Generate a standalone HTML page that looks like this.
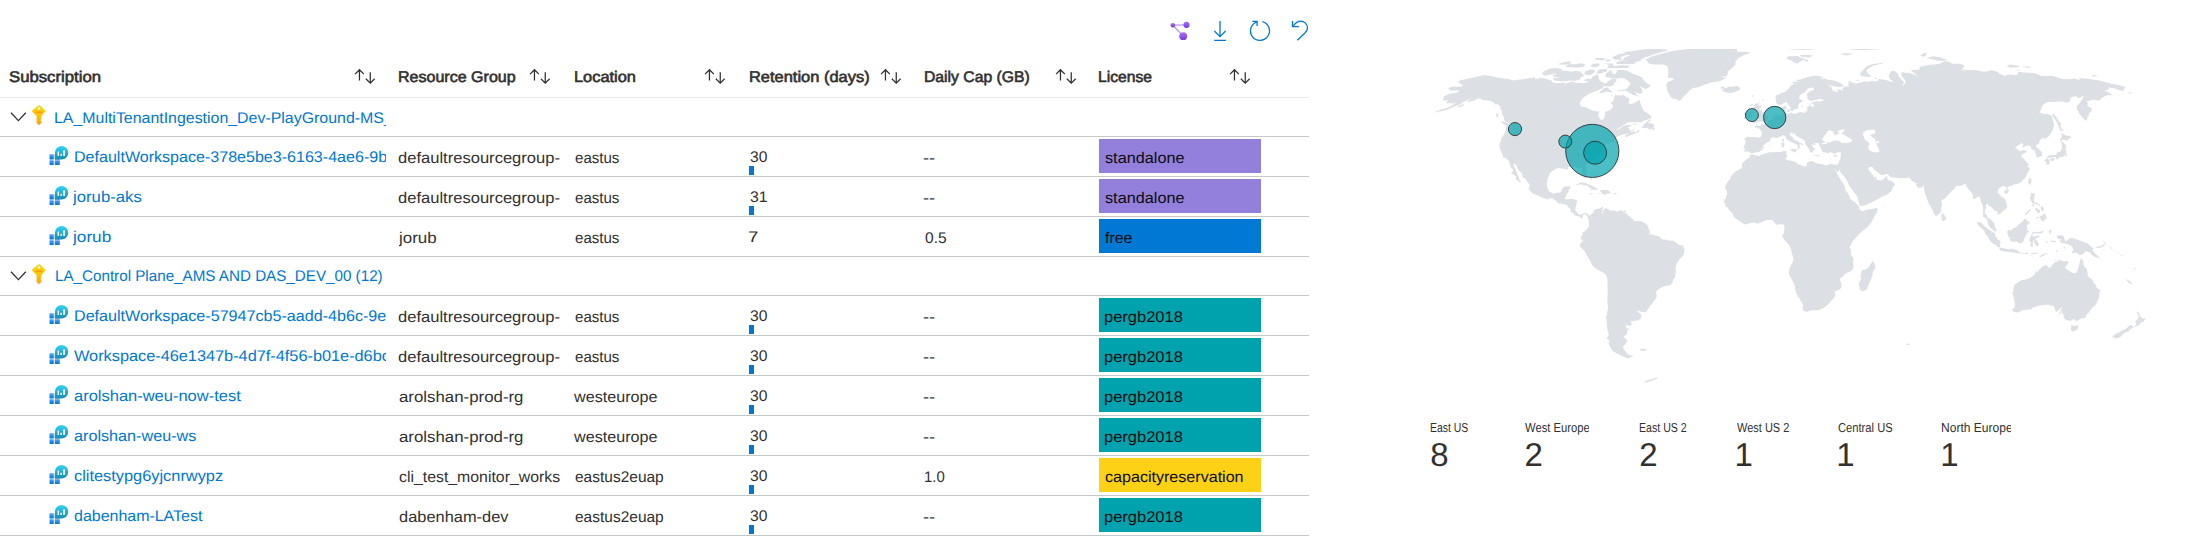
<!DOCTYPE html>
<html lang="en"><head><meta charset="utf-8"><title>Workspaces</title>
<style>
html,body{margin:0;padding:0;background:#fff;}
body{width:2195px;height:537px;overflow:hidden;position:relative;font-family:"Liberation Sans", sans-serif;color:#323130;}
.t{position:absolute;white-space:nowrap;text-rendering:geometricPrecision;}
.t span{display:inline-block;transform-origin:0 50%;}
.h{font-weight:normal;color:#323130;-webkit-text-stroke:0.6px #323130;}
.l{color:#0078d4;}
.c{color:#323130;}
.k{color:#0d0d0d;}
.ln{position:absolute;left:0;width:1309px;height:1px;background:#c8c8c8;}
.lic{position:absolute;left:1099px;width:162px;height:34px;}
.bar{position:absolute;left:749px;width:5px;height:9px;background:#0078d4;}
svg{position:absolute;overflow:visible;}
.tile-l{color:#323130;}
.tile-v{color:#323130;}
</style></head><body>

<svg style="left:1166px;top:16px" width="150" height="30" viewBox="1166 16 150 30">
<defs><linearGradient id="pg" x1="0" y1="0" x2="0" y2="1"><stop offset="0" stop-color="#a873f3"/><stop offset="1" stop-color="#773adc"/></linearGradient></defs>
<g stroke="#b796f9" stroke-width="1.3" fill="none"><path d="M1172.85 25.2 L1186.5 24.9 M1172.85 25.2 L1183.2 36.1"/></g>
<circle cx="1172.85" cy="25.3" r="2.3" fill="url(#pg)"/><circle cx="1186.5" cy="24.9" r="3.05" fill="url(#pg)"/><circle cx="1183.2" cy="36.15" r="3.9" fill="url(#pg)"/>
<g stroke="#0078d4" stroke-width="1.3" fill="none" stroke-linecap="butt" stroke-linejoin="miter">
<path d="M1220 21.1 V36.2 M1214.4 31 L1220 36.6 L1225.6 31 M1214.3 40.3 H1225.9"/>
<path d="M1262.4 21.7 A9.5 9.5 0 1 1 1257.2 21.8"/>
<path d="M1252.3 21.4 H1257.1 V25.9"/>
<path d="M1292.5 21.1 V26.7 H1298.9"/>
<path d="M1292.9 26.3 C1295 23.5 1297.5 21.1 1300.6 21.1 A6.9 6.9 0 0 1 1307.5 28 C1307.5 30.6 1306 32 1304.5 33.5 L1297.3 40.3"/>
</g>
</svg>
<div class="t h" style="left:8.75px;top:68.10px;font-size:15px;line-height:20px;"><span id="t1" style="transform:scale(1.1144,1.03);transform-origin:0 15.20px">Subscription</span></div>
<svg style="left:355px;top:68px" width="22" height="18" viewBox="0 0 22 18"><g stroke="#323130" stroke-width="1.25" fill="none">
<path d="M4.45 12.6 V1.7 M0.05 6.1 L4.45 1.7 L8.85 6.1"/><path d="M15.25 4.2 V15.1 M10.85 10.7 L15.25 15.1 L19.65 10.7"/></g></svg>
<div class="t h" style="left:397.50px;top:68.10px;font-size:15px;line-height:20px;"><span id="t2" style="transform:scale(1.0691,1.03);transform-origin:0 15.20px">Resource Group</span></div>
<svg style="left:529.5px;top:68px" width="22" height="18" viewBox="0 0 22 18"><g stroke="#323130" stroke-width="1.25" fill="none">
<path d="M4.45 12.6 V1.7 M0.05 6.1 L4.45 1.7 L8.85 6.1"/><path d="M15.25 4.2 V15.1 M10.85 10.7 L15.25 15.1 L19.65 10.7"/></g></svg>
<div class="t h" style="left:573.55px;top:68.10px;font-size:15px;line-height:20px;"><span id="t3" style="transform:scale(1.0924,1.03);transform-origin:0 15.20px">Location</span></div>
<svg style="left:705px;top:68px" width="22" height="18" viewBox="0 0 22 18"><g stroke="#323130" stroke-width="1.25" fill="none">
<path d="M4.45 12.6 V1.7 M0.05 6.1 L4.45 1.7 L8.85 6.1"/><path d="M15.25 4.2 V15.1 M10.85 10.7 L15.25 15.1 L19.65 10.7"/></g></svg>
<div class="t h" style="left:749.05px;top:68.10px;font-size:15px;line-height:20px;"><span id="t4" style="transform:scale(1.0960,1.03);transform-origin:0 15.20px">Retention (days)</span></div>
<svg style="left:880.5px;top:68px" width="22" height="18" viewBox="0 0 22 18"><g stroke="#323130" stroke-width="1.25" fill="none">
<path d="M4.45 12.6 V1.7 M0.05 6.1 L4.45 1.7 L8.85 6.1"/><path d="M15.25 4.2 V15.1 M10.85 10.7 L15.25 15.1 L19.65 10.7"/></g></svg>
<div class="t h" style="left:924.00px;top:68.10px;font-size:15px;line-height:20px;"><span id="t5" style="transform:scale(1.0478,1.03);transform-origin:0 15.20px">Daily Cap (GB)</span></div>
<svg style="left:1055.5px;top:68px" width="22" height="18" viewBox="0 0 22 18"><g stroke="#323130" stroke-width="1.25" fill="none">
<path d="M4.45 12.6 V1.7 M0.05 6.1 L4.45 1.7 L8.85 6.1"/><path d="M15.25 4.2 V15.1 M10.85 10.7 L15.25 15.1 L19.65 10.7"/></g></svg>
<div class="t h" style="left:1097.50px;top:68.10px;font-size:15px;line-height:20px;"><span id="t6" style="transform:scale(1.0445,1.03);transform-origin:0 15.20px">License</span></div>
<svg style="left:1230px;top:68px" width="22" height="18" viewBox="0 0 22 18"><g stroke="#323130" stroke-width="1.25" fill="none">
<path d="M4.45 12.6 V1.7 M0.05 6.1 L4.45 1.7 L8.85 6.1"/><path d="M15.25 4.2 V15.1 M10.85 10.7 L15.25 15.1 L19.65 10.7"/></g></svg>
<div class="ln" style="top:97px;background:#edebe9"></div>
<div class="ln" style="top:136px"></div>
<div class="ln" style="top:176px"></div>
<div class="ln" style="top:216px"></div>
<div class="ln" style="top:256px"></div>
<div class="ln" style="top:295px"></div>
<div class="ln" style="top:335px"></div>
<div class="ln" style="top:375px"></div>
<div class="ln" style="top:415px"></div>
<div class="ln" style="top:455px"></div>
<div class="ln" style="top:495px"></div>
<div class="ln" style="top:535px"></div>
<svg style="left:10px;top:111.8px" width="17" height="10" viewBox="0 0 17 10"><path d="M1 0.8 L8.4 8.6 L15.8 0.8" stroke="#323130" stroke-width="1.3" fill="none"/></svg>
<svg style="left:31px;top:105.0px" width="16" height="21" viewBox="0 0 16 21">
<defs><linearGradient id="kg1" x1="0" y1="0" x2="0" y2="1"><stop offset="0" stop-color="#ffd70f"/><stop offset="0.5" stop-color="#ffc400"/><stop offset="1" stop-color="#fea11b"/></linearGradient></defs>
<path fill="url(#kg1)" d="M7.6 0.3 Q8.1 0 8.6 0.3 L13.9 5.2 Q14.6 6 13.9 6.9 L10.3 11.1 V13.4 L9.6 14.1 L10.3 14.9 L9.6 15.7 L10.3 16.5 V18 L8 20.3 L5.6 18 V11.1 L1.4 6.9 Q0.8 6 1.4 5.2 Z"/>
<circle cx="7.9" cy="3.4" r="1.25" fill="#fff"/>
<rect x="4.4" y="6.6" width="7" height="1.3" rx="0.6" fill="#f78d1e" opacity="0.8"/>
</svg>
<div class="t l" style="left:53.75px;top:108.70px;font-size:15px;line-height:20px;width:332.25px;overflow:hidden;"><span id="t7" style="transform:scale(1.0608,1.03);transform-origin:0 15.20px">LA_MultiTenantIngestion_Dev-PlayGround-MS_</span></div>
<svg style="left:49px;top:145.6px" width="20" height="20" viewBox="0 0 20 20">
<defs><linearGradient id="wg2" x1="0" y1="0" x2="0" y2="1"><stop offset="0" stop-color="#32d4f5"/><stop offset="1" stop-color="#198ab3"/></linearGradient>
<linearGradient id="wb2" x1="0" y1="0" x2="0" y2="1"><stop offset="0" stop-color="#5ea0ef"/><stop offset="1" stop-color="#0078d4"/></linearGradient></defs>
<g fill="url(#wb2)"><rect x="0.5" y="8.3" width="4.3" height="5.1" rx="0.4"/><rect x="0.5" y="14.2" width="4.3" height="4.7" rx="0.4"/><rect x="5.8" y="14.2" width="5" height="4.7" rx="0.4"/><rect x="5.8" y="8.3" width="5" height="5.1" rx="0.4"/></g>
<path fill="url(#wg2)" d="M12.6 0 A6.7 6.7 0 1 1 12.6 13.4 H5.9 V6.7 A6.7 6.7 0 0 1 12.6 0 Z"/>
<g fill="#fff"><rect x="8.6" y="5.5" width="1.4" height="4.4" rx="0.3"/><rect x="11.4" y="7.7" width="1.4" height="2.2" rx="0.3"/><rect x="14.3" y="4.2" width="1.6" height="5.7" rx="0.3"/></g>
</svg>
<div class="t l" style="left:73.75px;top:148.10px;font-size:15px;line-height:20px;width:312.25px;overflow:hidden;"><span id="t8" style="transform:scale(1.0707,1.03);transform-origin:0 15.20px">DefaultWorkspace-378e5be3-6163-4ae6-9b</span></div>
<div class="t c" style="left:398.00px;top:149.20px;font-size:15px;line-height:20px;width:162.00px;overflow:hidden;"><span id="t9" style="transform:scale(1.1037,1.03);transform-origin:0 15.20px">defaultresourcegroup-</span></div>
<div class="t c" style="left:574.55px;top:149.20px;font-size:15px;line-height:20px;"><span id="t10" style="transform:scale(1.0045,1.03);transform-origin:0 15.20px">eastus</span></div>
<div class="t c" style="left:750.15px;top:148.00px;font-size:15px;line-height:20px;"><span id="t11" style="transform:scale(1.0439,1.03);transform-origin:0 15.20px">30</span></div>
<div class="bar" style="top:165.5px"></div>
<div class="t c" style="left:923.30px;top:149.20px;font-size:15px;line-height:20px;"><span id="t12" style="transform:scale(1.2241,1.03);transform-origin:0 15.20px">--</span></div>
<div class="lic" style="top:139px;background:#9280dc"></div>
<div class="t k" style="left:1104.50px;top:149.00px;font-size:15px;line-height:20px;"><span id="t13" style="transform:scale(1.0832,1.03);transform-origin:0 15.20px">standalone</span></div>
<svg style="left:49px;top:185.6px" width="20" height="20" viewBox="0 0 20 20">
<defs><linearGradient id="wg3" x1="0" y1="0" x2="0" y2="1"><stop offset="0" stop-color="#32d4f5"/><stop offset="1" stop-color="#198ab3"/></linearGradient>
<linearGradient id="wb3" x1="0" y1="0" x2="0" y2="1"><stop offset="0" stop-color="#5ea0ef"/><stop offset="1" stop-color="#0078d4"/></linearGradient></defs>
<g fill="url(#wb3)"><rect x="0.5" y="8.3" width="4.3" height="5.1" rx="0.4"/><rect x="0.5" y="14.2" width="4.3" height="4.7" rx="0.4"/><rect x="5.8" y="14.2" width="5" height="4.7" rx="0.4"/><rect x="5.8" y="8.3" width="5" height="5.1" rx="0.4"/></g>
<path fill="url(#wg3)" d="M12.6 0 A6.7 6.7 0 1 1 12.6 13.4 H5.9 V6.7 A6.7 6.7 0 0 1 12.6 0 Z"/>
<g fill="#fff"><rect x="8.6" y="5.5" width="1.4" height="4.4" rx="0.3"/><rect x="11.4" y="7.7" width="1.4" height="2.2" rx="0.3"/><rect x="14.3" y="4.2" width="1.6" height="5.7" rx="0.3"/></g>
</svg>
<div class="t l" style="left:72.90px;top:188.10px;font-size:15px;line-height:20px;width:313.10px;overflow:hidden;"><span id="t14" style="transform:scale(1.1149,1.03);transform-origin:0 15.20px">jorub-aks</span></div>
<div class="t c" style="left:398.00px;top:189.20px;font-size:15px;line-height:20px;width:162.00px;overflow:hidden;"><span id="t15" style="transform:scale(1.1037,1.03);transform-origin:0 15.20px">defaultresourcegroup-</span></div>
<div class="t c" style="left:574.55px;top:189.20px;font-size:15px;line-height:20px;"><span id="t16" style="transform:scale(1.0045,1.03);transform-origin:0 15.20px">eastus</span></div>
<div class="t c" style="left:750.15px;top:188.00px;font-size:15px;line-height:20px;"><span id="t17" style="transform:scale(1.0548,1.03);transform-origin:0 15.20px">31</span></div>
<div class="bar" style="top:205.5px"></div>
<div class="t c" style="left:923.30px;top:189.20px;font-size:15px;line-height:20px;"><span id="t18" style="transform:scale(1.2241,1.03);transform-origin:0 15.20px">--</span></div>
<div class="lic" style="top:179px;background:#9280dc"></div>
<div class="t k" style="left:1104.50px;top:189.00px;font-size:15px;line-height:20px;"><span id="t19" style="transform:scale(1.0832,1.03);transform-origin:0 15.20px">standalone</span></div>
<svg style="left:49px;top:225.6px" width="20" height="20" viewBox="0 0 20 20">
<defs><linearGradient id="wg4" x1="0" y1="0" x2="0" y2="1"><stop offset="0" stop-color="#32d4f5"/><stop offset="1" stop-color="#198ab3"/></linearGradient>
<linearGradient id="wb4" x1="0" y1="0" x2="0" y2="1"><stop offset="0" stop-color="#5ea0ef"/><stop offset="1" stop-color="#0078d4"/></linearGradient></defs>
<g fill="url(#wb4)"><rect x="0.5" y="8.3" width="4.3" height="5.1" rx="0.4"/><rect x="0.5" y="14.2" width="4.3" height="4.7" rx="0.4"/><rect x="5.8" y="14.2" width="5" height="4.7" rx="0.4"/><rect x="5.8" y="8.3" width="5" height="5.1" rx="0.4"/></g>
<path fill="url(#wg4)" d="M12.6 0 A6.7 6.7 0 1 1 12.6 13.4 H5.9 V6.7 A6.7 6.7 0 0 1 12.6 0 Z"/>
<g fill="#fff"><rect x="8.6" y="5.5" width="1.4" height="4.4" rx="0.3"/><rect x="11.4" y="7.7" width="1.4" height="2.2" rx="0.3"/><rect x="14.3" y="4.2" width="1.6" height="5.7" rx="0.3"/></g>
</svg>
<div class="t l" style="left:72.90px;top:228.10px;font-size:15px;line-height:20px;width:313.10px;overflow:hidden;"><span id="t20" style="transform:scale(1.1462,1.03);transform-origin:0 15.20px">jorub</span></div>
<div class="t c" style="left:399.40px;top:229.20px;font-size:15px;line-height:20px;width:160.60px;overflow:hidden;"><span id="t21" style="transform:scale(1.1318,1.03);transform-origin:0 15.20px">jorub</span></div>
<div class="t c" style="left:574.55px;top:229.20px;font-size:15px;line-height:20px;"><span id="t22" style="transform:scale(1.0045,1.03);transform-origin:0 15.20px">eastus</span></div>
<div class="t c" style="left:748.40px;top:228.00px;font-size:15px;line-height:20px;"><span id="t23" style="transform:scale(1.2463,1.03);transform-origin:0 15.20px">7</span></div>
<div class="t c" style="left:925.30px;top:229.20px;font-size:15px;line-height:20px;"><span id="t24" style="transform:scale(1.0373,1.03);transform-origin:0 15.20px">0.5</span></div>
<div class="lic" style="top:219px;background:#0078d4"></div>
<div class="t k" style="left:1104.50px;top:229.00px;font-size:15px;line-height:20px;"><span id="t25" style="transform:scale(1.0613,1.03);transform-origin:0 15.20px">free</span></div>
<svg style="left:10px;top:270.52000000000004px" width="17" height="10" viewBox="0 0 17 10"><path d="M1 0.8 L8.4 8.6 L15.8 0.8" stroke="#323130" stroke-width="1.3" fill="none"/></svg>
<svg style="left:31px;top:264.2px" width="16" height="21" viewBox="0 0 16 21">
<defs><linearGradient id="kg5" x1="0" y1="0" x2="0" y2="1"><stop offset="0" stop-color="#ffd70f"/><stop offset="0.5" stop-color="#ffc400"/><stop offset="1" stop-color="#fea11b"/></linearGradient></defs>
<path fill="url(#kg5)" d="M7.6 0.3 Q8.1 0 8.6 0.3 L13.9 5.2 Q14.6 6 13.9 6.9 L10.3 11.1 V13.4 L9.6 14.1 L10.3 14.9 L9.6 15.7 L10.3 16.5 V18 L8 20.3 L5.6 18 V11.1 L1.4 6.9 Q0.8 6 1.4 5.2 Z"/>
<circle cx="7.9" cy="3.4" r="1.25" fill="#fff"/>
<rect x="4.4" y="6.6" width="7" height="1.3" rx="0.6" fill="#f78d1e" opacity="0.8"/>
</svg>
<div class="t l" style="left:54.75px;top:266.70px;font-size:15px;line-height:20px;"><span id="t26" style="transform:scale(1.0128,1.03);transform-origin:0 15.20px">LA_Control Plane_AMS AND DAS_DEV_00 (12)</span></div>
<svg style="left:49px;top:304.6px" width="20" height="20" viewBox="0 0 20 20">
<defs><linearGradient id="wg6" x1="0" y1="0" x2="0" y2="1"><stop offset="0" stop-color="#32d4f5"/><stop offset="1" stop-color="#198ab3"/></linearGradient>
<linearGradient id="wb6" x1="0" y1="0" x2="0" y2="1"><stop offset="0" stop-color="#5ea0ef"/><stop offset="1" stop-color="#0078d4"/></linearGradient></defs>
<g fill="url(#wb6)"><rect x="0.5" y="8.3" width="4.3" height="5.1" rx="0.4"/><rect x="0.5" y="14.2" width="4.3" height="4.7" rx="0.4"/><rect x="5.8" y="14.2" width="5" height="4.7" rx="0.4"/><rect x="5.8" y="8.3" width="5" height="5.1" rx="0.4"/></g>
<path fill="url(#wg6)" d="M12.6 0 A6.7 6.7 0 1 1 12.6 13.4 H5.9 V6.7 A6.7 6.7 0 0 1 12.6 0 Z"/>
<g fill="#fff"><rect x="8.6" y="5.5" width="1.4" height="4.4" rx="0.3"/><rect x="11.4" y="7.7" width="1.4" height="2.2" rx="0.3"/><rect x="14.3" y="4.2" width="1.6" height="5.7" rx="0.3"/></g>
</svg>
<div class="t l" style="left:73.75px;top:307.10px;font-size:15px;line-height:20px;width:312.25px;overflow:hidden;"><span id="t27" style="transform:scale(1.0740,1.03);transform-origin:0 15.20px">DefaultWorkspace-57947cb5-aadd-4b6c-9e</span></div>
<div class="t c" style="left:398.00px;top:308.20px;font-size:15px;line-height:20px;width:162.00px;overflow:hidden;"><span id="t28" style="transform:scale(1.1037,1.03);transform-origin:0 15.20px">defaultresourcegroup-</span></div>
<div class="t c" style="left:574.55px;top:308.20px;font-size:15px;line-height:20px;"><span id="t29" style="transform:scale(1.0045,1.03);transform-origin:0 15.20px">eastus</span></div>
<div class="t c" style="left:750.15px;top:307.00px;font-size:15px;line-height:20px;"><span id="t30" style="transform:scale(1.0439,1.03);transform-origin:0 15.20px">30</span></div>
<div class="bar" style="top:324.5px"></div>
<div class="t c" style="left:923.30px;top:308.20px;font-size:15px;line-height:20px;"><span id="t31" style="transform:scale(1.2241,1.03);transform-origin:0 15.20px">--</span></div>
<div class="lic" style="top:298px;background:#00a2ad"></div>
<div class="t k" style="left:1103.50px;top:308.00px;font-size:15px;line-height:20px;"><span id="t32" style="transform:scale(1.0984,1.03);transform-origin:0 15.20px">pergb2018</span></div>
<svg style="left:49px;top:344.6px" width="20" height="20" viewBox="0 0 20 20">
<defs><linearGradient id="wg7" x1="0" y1="0" x2="0" y2="1"><stop offset="0" stop-color="#32d4f5"/><stop offset="1" stop-color="#198ab3"/></linearGradient>
<linearGradient id="wb7" x1="0" y1="0" x2="0" y2="1"><stop offset="0" stop-color="#5ea0ef"/><stop offset="1" stop-color="#0078d4"/></linearGradient></defs>
<g fill="url(#wb7)"><rect x="0.5" y="8.3" width="4.3" height="5.1" rx="0.4"/><rect x="0.5" y="14.2" width="4.3" height="4.7" rx="0.4"/><rect x="5.8" y="14.2" width="5" height="4.7" rx="0.4"/><rect x="5.8" y="8.3" width="5" height="5.1" rx="0.4"/></g>
<path fill="url(#wg7)" d="M12.6 0 A6.7 6.7 0 1 1 12.6 13.4 H5.9 V6.7 A6.7 6.7 0 0 1 12.6 0 Z"/>
<g fill="#fff"><rect x="8.6" y="5.5" width="1.4" height="4.4" rx="0.3"/><rect x="11.4" y="7.7" width="1.4" height="2.2" rx="0.3"/><rect x="14.3" y="4.2" width="1.6" height="5.7" rx="0.3"/></g>
</svg>
<div class="t l" style="left:73.50px;top:347.10px;font-size:15px;line-height:20px;width:312.50px;overflow:hidden;"><span id="t33" style="transform:scale(1.0865,1.03);transform-origin:0 15.20px">Workspace-46e1347b-4d7f-4f56-b01e-d6bc</span></div>
<div class="t c" style="left:398.00px;top:348.20px;font-size:15px;line-height:20px;width:162.00px;overflow:hidden;"><span id="t34" style="transform:scale(1.1037,1.03);transform-origin:0 15.20px">defaultresourcegroup-</span></div>
<div class="t c" style="left:574.55px;top:348.20px;font-size:15px;line-height:20px;"><span id="t35" style="transform:scale(1.0045,1.03);transform-origin:0 15.20px">eastus</span></div>
<div class="t c" style="left:750.15px;top:347.00px;font-size:15px;line-height:20px;"><span id="t36" style="transform:scale(1.0439,1.03);transform-origin:0 15.20px">30</span></div>
<div class="bar" style="top:364.5px"></div>
<div class="t c" style="left:923.30px;top:348.20px;font-size:15px;line-height:20px;"><span id="t37" style="transform:scale(1.2241,1.03);transform-origin:0 15.20px">--</span></div>
<div class="lic" style="top:338px;background:#00a2ad"></div>
<div class="t k" style="left:1103.50px;top:348.00px;font-size:15px;line-height:20px;"><span id="t38" style="transform:scale(1.0984,1.03);transform-origin:0 15.20px">pergb2018</span></div>
<svg style="left:49px;top:384.6px" width="20" height="20" viewBox="0 0 20 20">
<defs><linearGradient id="wg8" x1="0" y1="0" x2="0" y2="1"><stop offset="0" stop-color="#32d4f5"/><stop offset="1" stop-color="#198ab3"/></linearGradient>
<linearGradient id="wb8" x1="0" y1="0" x2="0" y2="1"><stop offset="0" stop-color="#5ea0ef"/><stop offset="1" stop-color="#0078d4"/></linearGradient></defs>
<g fill="url(#wb8)"><rect x="0.5" y="8.3" width="4.3" height="5.1" rx="0.4"/><rect x="0.5" y="14.2" width="4.3" height="4.7" rx="0.4"/><rect x="5.8" y="14.2" width="5" height="4.7" rx="0.4"/><rect x="5.8" y="8.3" width="5" height="5.1" rx="0.4"/></g>
<path fill="url(#wg8)" d="M12.6 0 A6.7 6.7 0 1 1 12.6 13.4 H5.9 V6.7 A6.7 6.7 0 0 1 12.6 0 Z"/>
<g fill="#fff"><rect x="8.6" y="5.5" width="1.4" height="4.4" rx="0.3"/><rect x="11.4" y="7.7" width="1.4" height="2.2" rx="0.3"/><rect x="14.3" y="4.2" width="1.6" height="5.7" rx="0.3"/></g>
</svg>
<div class="t l" style="left:73.50px;top:387.10px;font-size:15px;line-height:20px;width:312.50px;overflow:hidden;"><span id="t39" style="transform:scale(1.0989,1.03);transform-origin:0 15.20px">arolshan-weu-now-test</span></div>
<div class="t c" style="left:398.50px;top:388.20px;font-size:15px;line-height:20px;width:161.50px;overflow:hidden;"><span id="t40" style="transform:scale(1.1223,1.03);transform-origin:0 15.20px">arolshan-prod-rg</span></div>
<div class="t c" style="left:574.30px;top:388.20px;font-size:15px;line-height:20px;"><span id="t41" style="transform:scale(1.0765,1.03);transform-origin:0 15.20px">westeurope</span></div>
<div class="t c" style="left:750.15px;top:387.00px;font-size:15px;line-height:20px;"><span id="t42" style="transform:scale(1.0439,1.03);transform-origin:0 15.20px">30</span></div>
<div class="bar" style="top:404.5px"></div>
<div class="t c" style="left:923.30px;top:388.20px;font-size:15px;line-height:20px;"><span id="t43" style="transform:scale(1.2241,1.03);transform-origin:0 15.20px">--</span></div>
<div class="lic" style="top:378px;background:#00a2ad"></div>
<div class="t k" style="left:1103.50px;top:388.00px;font-size:15px;line-height:20px;"><span id="t44" style="transform:scale(1.0984,1.03);transform-origin:0 15.20px">pergb2018</span></div>
<svg style="left:49px;top:424.6px" width="20" height="20" viewBox="0 0 20 20">
<defs><linearGradient id="wg9" x1="0" y1="0" x2="0" y2="1"><stop offset="0" stop-color="#32d4f5"/><stop offset="1" stop-color="#198ab3"/></linearGradient>
<linearGradient id="wb9" x1="0" y1="0" x2="0" y2="1"><stop offset="0" stop-color="#5ea0ef"/><stop offset="1" stop-color="#0078d4"/></linearGradient></defs>
<g fill="url(#wb9)"><rect x="0.5" y="8.3" width="4.3" height="5.1" rx="0.4"/><rect x="0.5" y="14.2" width="4.3" height="4.7" rx="0.4"/><rect x="5.8" y="14.2" width="5" height="4.7" rx="0.4"/><rect x="5.8" y="8.3" width="5" height="5.1" rx="0.4"/></g>
<path fill="url(#wg9)" d="M12.6 0 A6.7 6.7 0 1 1 12.6 13.4 H5.9 V6.7 A6.7 6.7 0 0 1 12.6 0 Z"/>
<g fill="#fff"><rect x="8.6" y="5.5" width="1.4" height="4.4" rx="0.3"/><rect x="11.4" y="7.7" width="1.4" height="2.2" rx="0.3"/><rect x="14.3" y="4.2" width="1.6" height="5.7" rx="0.3"/></g>
</svg>
<div class="t l" style="left:73.50px;top:427.10px;font-size:15px;line-height:20px;width:312.50px;overflow:hidden;"><span id="t45" style="transform:scale(1.0786,1.03);transform-origin:0 15.20px">arolshan-weu-ws</span></div>
<div class="t c" style="left:398.50px;top:428.20px;font-size:15px;line-height:20px;width:161.50px;overflow:hidden;"><span id="t46" style="transform:scale(1.1223,1.03);transform-origin:0 15.20px">arolshan-prod-rg</span></div>
<div class="t c" style="left:574.30px;top:428.20px;font-size:15px;line-height:20px;"><span id="t47" style="transform:scale(1.0765,1.03);transform-origin:0 15.20px">westeurope</span></div>
<div class="t c" style="left:750.15px;top:427.00px;font-size:15px;line-height:20px;"><span id="t48" style="transform:scale(1.0439,1.03);transform-origin:0 15.20px">30</span></div>
<div class="bar" style="top:444.5px"></div>
<div class="t c" style="left:923.30px;top:428.20px;font-size:15px;line-height:20px;"><span id="t49" style="transform:scale(1.2241,1.03);transform-origin:0 15.20px">--</span></div>
<div class="lic" style="top:418px;background:#00a2ad"></div>
<div class="t k" style="left:1103.50px;top:428.00px;font-size:15px;line-height:20px;"><span id="t50" style="transform:scale(1.0984,1.03);transform-origin:0 15.20px">pergb2018</span></div>
<svg style="left:49px;top:464.6px" width="20" height="20" viewBox="0 0 20 20">
<defs><linearGradient id="wg10" x1="0" y1="0" x2="0" y2="1"><stop offset="0" stop-color="#32d4f5"/><stop offset="1" stop-color="#198ab3"/></linearGradient>
<linearGradient id="wb10" x1="0" y1="0" x2="0" y2="1"><stop offset="0" stop-color="#5ea0ef"/><stop offset="1" stop-color="#0078d4"/></linearGradient></defs>
<g fill="url(#wb10)"><rect x="0.5" y="8.3" width="4.3" height="5.1" rx="0.4"/><rect x="0.5" y="14.2" width="4.3" height="4.7" rx="0.4"/><rect x="5.8" y="14.2" width="5" height="4.7" rx="0.4"/><rect x="5.8" y="8.3" width="5" height="5.1" rx="0.4"/></g>
<path fill="url(#wg10)" d="M12.6 0 A6.7 6.7 0 1 1 12.6 13.4 H5.9 V6.7 A6.7 6.7 0 0 1 12.6 0 Z"/>
<g fill="#fff"><rect x="8.6" y="5.5" width="1.4" height="4.4" rx="0.3"/><rect x="11.4" y="7.7" width="1.4" height="2.2" rx="0.3"/><rect x="14.3" y="4.2" width="1.6" height="5.7" rx="0.3"/></g>
</svg>
<div class="t l" style="left:73.50px;top:467.10px;font-size:15px;line-height:20px;width:312.50px;overflow:hidden;"><span id="t51" style="transform:scale(1.0907,1.03);transform-origin:0 15.20px">clitestypg6yjcnrwypz</span></div>
<div class="t c" style="left:398.50px;top:468.20px;font-size:15px;line-height:20px;width:161.50px;overflow:hidden;"><span id="t52" style="transform:scale(1.0558,1.03);transform-origin:0 15.20px">cli_test_monitor_works</span></div>
<div class="t c" style="left:574.55px;top:468.20px;font-size:15px;line-height:20px;"><span id="t53" style="transform:scale(1.0330,1.03);transform-origin:0 15.20px">eastus2euap</span></div>
<div class="t c" style="left:750.15px;top:467.00px;font-size:15px;line-height:20px;"><span id="t54" style="transform:scale(1.0439,1.03);transform-origin:0 15.20px">30</span></div>
<div class="bar" style="top:484.5px"></div>
<div class="t c" style="left:924.30px;top:468.20px;font-size:15px;line-height:20px;"><span id="t55" style="transform:scale(0.9948,1.03);transform-origin:0 15.20px">1.0</span></div>
<div class="lic" style="top:458px;background:#fcd116"></div>
<div class="t k" style="left:1104.50px;top:468.00px;font-size:15px;line-height:20px;"><span id="t56" style="transform:scale(1.0722,1.03);transform-origin:0 15.20px">capacityreservation</span></div>
<svg style="left:49px;top:504.6px" width="20" height="20" viewBox="0 0 20 20">
<defs><linearGradient id="wg11" x1="0" y1="0" x2="0" y2="1"><stop offset="0" stop-color="#32d4f5"/><stop offset="1" stop-color="#198ab3"/></linearGradient>
<linearGradient id="wb11" x1="0" y1="0" x2="0" y2="1"><stop offset="0" stop-color="#5ea0ef"/><stop offset="1" stop-color="#0078d4"/></linearGradient></defs>
<g fill="url(#wb11)"><rect x="0.5" y="8.3" width="4.3" height="5.1" rx="0.4"/><rect x="0.5" y="14.2" width="4.3" height="4.7" rx="0.4"/><rect x="5.8" y="14.2" width="5" height="4.7" rx="0.4"/><rect x="5.8" y="8.3" width="5" height="5.1" rx="0.4"/></g>
<path fill="url(#wg11)" d="M12.6 0 A6.7 6.7 0 1 1 12.6 13.4 H5.9 V6.7 A6.7 6.7 0 0 1 12.6 0 Z"/>
<g fill="#fff"><rect x="8.6" y="5.5" width="1.4" height="4.4" rx="0.3"/><rect x="11.4" y="7.7" width="1.4" height="2.2" rx="0.3"/><rect x="14.3" y="4.2" width="1.6" height="5.7" rx="0.3"/></g>
</svg>
<div class="t l" style="left:73.50px;top:507.10px;font-size:15px;line-height:20px;width:312.50px;overflow:hidden;"><span id="t57" style="transform:scale(1.0640,1.03);transform-origin:0 15.20px">dabenham-LATest</span></div>
<div class="t c" style="left:398.50px;top:508.20px;font-size:15px;line-height:20px;width:161.50px;overflow:hidden;"><span id="t58" style="transform:scale(1.0939,1.03);transform-origin:0 15.20px">dabenham-dev</span></div>
<div class="t c" style="left:574.55px;top:508.20px;font-size:15px;line-height:20px;"><span id="t59" style="transform:scale(1.0330,1.03);transform-origin:0 15.20px">eastus2euap</span></div>
<div class="t c" style="left:750.15px;top:507.00px;font-size:15px;line-height:20px;"><span id="t60" style="transform:scale(1.0439,1.03);transform-origin:0 15.20px">30</span></div>
<div class="bar" style="top:524.5px"></div>
<div class="t c" style="left:923.30px;top:508.20px;font-size:15px;line-height:20px;"><span id="t61" style="transform:scale(1.2241,1.03);transform-origin:0 15.20px">--</span></div>
<div class="lic" style="top:498px;background:#00a2ad"></div>
<div class="t k" style="left:1103.50px;top:508.00px;font-size:15px;line-height:20px;"><span id="t62" style="transform:scale(1.0984,1.03);transform-origin:0 15.20px">pergb2018</span></div>
<svg style="left:1330px;top:47px" width="865" height="400" viewBox="1330 47 865 400">
<defs><clipPath id="mc"><rect x="1330" y="48.9" width="865" height="400"/></clipPath></defs>
<g clip-path="url(#mc)">
<path fill="#dcdfe4" d="M1448.3,88.0 1453.3,86.6 1455.4,86.7 1457.6,86.8 1459.5,86.8 1461.3,86.8 1463.3,84.8 1460.2,84.6 1460.6,83.5 1459.1,82.7 1457.5,81.8 1460.1,80.6 1464.2,79.6 1468.3,78.6 1472.2,77.7 1476.0,76.8 1480.2,75.9 1484.5,75.0 1486.8,75.4 1489.0,75.8 1491.3,76.1 1493.8,76.7 1496.4,77.3 1499.1,77.7 1501.8,78.2 1504.0,78.4 1506.1,78.7 1508.3,78.9 1510.2,79.5 1512.1,80.0 1514.0,80.6 1516.4,80.0 1518.8,79.5 1520.7,79.4 1522.7,79.3 1524.9,78.8 1527.2,78.4 1529.8,78.0 1532.4,77.7 1534.2,76.8 1534.8,78.0 1535.5,79.3 1539.3,78.2 1539.4,77.7 1542.3,78.2 1545.3,78.6 1547.2,79.2 1549.1,79.8 1551.1,80.4 1552.0,81.5 1552.9,82.6 1554.4,83.1 1557.0,83.0 1559.5,82.9 1562.1,82.8 1564.2,82.5 1566.3,82.2 1563.9,85.3 1567.6,82.8 1570.0,82.2 1572.4,81.5 1574.6,82.3 1576.8,83.1 1579.3,83.1 1581.7,83.1 1584.2,83.1 1587.6,82.2 1589.8,80.4 1592.3,77.0 1597.4,73.9 1598.0,75.5 1598.7,77.0 1598.9,79.3 1600.3,81.3 1601.7,81.9 1603.1,82.6 1605.2,83.7 1608.9,80.8 1612.2,78.6 1614.3,78.8 1616.5,79.0 1616.3,81.5 1613.6,83.7 1614.3,85.1 1610.1,86.6 1607.9,86.3 1605.8,86.0 1604.4,86.0 1601.5,88.4 1597.1,91.1 1594.9,91.6 1592.6,92.2 1590.0,93.5 1587.3,94.9 1582.5,98.2 1581.0,100.7 1579.6,103.1 1581.2,106.7 1583.6,106.9 1585.9,107.1 1587.9,108.3 1589.9,109.4 1592.1,110.2 1594.3,110.9 1596.9,111.2 1599.5,111.4 1598.1,114.9 1599.5,118.3 1600.9,120.1 1603.2,119.4 1604.4,117.2 1605.2,113.8 1604.9,112.0 1607.2,111.3 1609.5,110.5 1612.2,108.3 1613.2,105.4 1610.5,103.1 1613.7,100.4 1613.7,98.2 1615.2,95.1 1617.5,95.3 1619.8,95.5 1623.5,95.1 1626.3,97.1 1629.3,98.2 1628.9,101.6 1628.3,103.1 1630.8,104.2 1634.2,103.1 1637.6,100.9 1639.5,99.6 1640.3,102.7 1641.3,105.4 1642.4,108.3 1643.9,110.9 1647.0,112.7 1649.0,114.3 1651.4,116.5 1651.1,118.3 1648.1,119.6 1644.4,120.5 1641.2,122.3 1639.2,122.3 1637.1,122.3 1634.6,122.2 1632.1,122.1 1630.0,122.2 1627.9,122.3 1625.2,124.3 1621.7,125.9 1619.0,128.1 1616.0,129.9 1618.6,129.4 1622.5,126.5 1626.5,125.0 1628.9,124.9 1631.3,124.8 1631.5,125.4 1628.6,127.2 1626.9,127.2 1629.4,128.1 1629.4,129.7 1630.6,131.2 1631.5,131.9 1634.6,132.1 1636.0,132.6 1638.8,129.4 1639.4,131.4 1636.4,133.2 1633.6,134.1 1630.8,135.0 1628.4,136.1 1626.0,137.2 1624.9,135.7 1626.7,134.6 1629.5,133.2 1625.8,133.7 1623.6,134.3 1620.2,135.5 1616.7,136.8 1614.7,138.6 1614.8,139.3 1613.8,139.9 1614.4,140.8 1615.7,140.6 1615.7,141.3 1614.2,141.7 1612.4,141.9 1610.0,142.3 1607.3,143.0 1611.0,142.8 1609.8,143.4 1606.5,143.7 1606.1,145.5 1603.7,147.4 1602.9,146.4 1603.2,147.9 1602.6,149.5 1600.6,151.5 1599.7,151.7 1600.2,148.8 1601.1,146.6 1599.8,148.4 1599.7,151.7 1600.3,152.0 1600.6,155.5 1598.2,156.9 1594.8,158.7 1591.7,160.2 1589.7,161.6 1587.5,162.9 1585.9,165.6 1585.7,167.8 1586.7,170.7 1587.3,174.5 1586.8,176.7 1586.0,178.1 1584.4,178.2 1583.2,176.0 1582.6,174.5 1581.8,172.3 1582.1,169.6 1580.9,167.8 1579.5,167.2 1576.9,168.0 1574.6,166.5 1571.3,166.7 1568.9,166.7 1567.6,167.6 1567.9,169.4 1567.6,169.7 1565.9,169.4 1563.7,168.7 1561.5,168.4 1558.3,168.0 1556.2,168.7 1553.3,170.5 1550.0,172.7 1548.8,176.3 1547.6,179.6 1547.1,181.8 1546.6,184.1 1547.4,187.9 1548.9,191.2 1551.6,192.8 1553.1,193.8 1556.7,192.8 1559.4,192.8 1561.4,191.2 1562.4,187.9 1563.5,187.1 1566.9,186.3 1570.2,186.3 1570.4,187.9 1568.9,189.7 1568.1,192.5 1566.6,194.1 1566.1,196.3 1564.5,198.8 1566.5,199.2 1569.8,199.0 1573.2,198.7 1576.6,200.4 1577.2,200.8 1576.3,204.1 1575.6,207.5 1575.2,209.9 1577.1,212.4 1578.3,214.2 1581.0,214.6 1583.5,213.4 1586.0,213.1 1588.0,214.2 1589.2,215.0 1587.8,218.2 1587.2,215.7 1585.5,214.4 1584.4,214.3 1582.3,215.7 1583.1,217.5 1581.1,218.2 1579.3,216.6 1576.7,216.0 1575.1,215.3 1572.8,212.8 1571.9,212.8 1570.4,211.7 1570.8,209.5 1568.7,207.5 1567.0,205.5 1567.3,204.6 1564.9,204.8 1562.0,204.0 1558.5,203.3 1556.9,201.9 1553.4,198.7 1551.0,198.1 1547.5,199.4 1545.4,198.6 1543.2,197.9 1540.2,196.7 1536.5,194.8 1532.6,193.4 1530.9,191.7 1528.6,188.8 1529.7,186.3 1529.2,183.9 1527.7,182.3 1525.1,178.5 1522.3,176.9 1522.6,174.7 1520.7,172.0 1517.8,169.6 1516.8,165.6 1513.8,163.6 1513.7,163.3 1513.4,165.3 1515.2,168.5 1516.2,170.9 1517.3,173.8 1518.3,176.3 1519.4,179.4 1520.9,182.3 1520.0,183.2 1519.4,181.8 1515.9,179.4 1516.3,176.5 1513.6,174.7 1511.9,173.4 1511.0,172.3 1513.0,171.4 1513.1,169.8 1510.7,167.3 1509.9,165.1 1509.1,161.8 1507.1,158.9 1505.6,158.1 1502.8,157.3 1502.8,155.3 1501.5,152.6 1500.9,150.6 1500.2,149.5 1499.5,146.6 1499.3,144.2 1500.9,141.3 1501.1,138.8 1503.8,134.8 1505.5,131.2 1505.9,128.8 1506.2,126.3 1509.9,127.0 1509.9,128.8 1511.1,126.5 1510.8,125.0 1510.3,124.3 1507.8,122.8 1506.1,121.7 1504.3,120.7 1504.1,117.8 1502.7,115.2 1501.9,113.2 1502.0,110.9 1500.8,109.4 1500.0,106.0 1498.7,105.0 1497.4,104.0 1494.9,104.5 1493.6,102.5 1491.1,101.0 1489.2,100.7 1487.2,100.4 1485.1,100.3 1482.9,100.2 1480.7,98.8 1478.9,98.6 1477.1,98.4 1474.7,100.4 1471.6,101.1 1469.1,101.7 1466.6,102.2 1469.7,99.3 1473.9,97.8 1469.5,98.7 1464.4,101.6 1460.2,104.2 1456.8,105.7 1453.4,107.1 1450.6,108.3 1447.7,109.4 1445.2,110.0 1442.7,110.7 1440.1,111.3 1437.5,111.8 1435.1,112.2 1432.7,112.5 1436.8,111.2 1440.6,109.6 1444.2,108.7 1449.2,107.1 1453.9,104.2 1455.6,103.1 1451.7,103.6 1449.1,103.1 1445.9,103.3 1445.3,103.5 1447.4,101.6 1447.6,100.2 1443.9,100.7 1442.7,99.1 1444.2,96.9 1443.2,96.9 1448.5,94.0 1452.6,93.3 1454.9,92.9 1457.3,92.4 1459.8,90.2 1456.1,90.6 1454.1,90.6 1452.1,90.5 1450.8,90.4 1449.2,89.7ZM1679.4,100.9 1677.6,100.0 1675.8,99.1 1673.8,98.7 1671.8,98.2 1670.0,96.0 1668.8,93.8 1667.4,91.1 1666.9,88.2 1666.1,85.1 1667.5,82.2 1670.2,81.0 1673.0,79.9 1674.0,78.4 1670.9,77.9 1667.7,77.5 1668.3,75.0 1668.4,71.9 1668.0,68.1 1666.8,65.7 1664.5,65.1 1662.3,64.5 1659.4,64.5 1656.5,64.5 1653.7,64.5 1651.4,64.1 1649.1,63.7 1648.2,62.7 1647.2,61.6 1646.3,59.6 1649.7,59.0 1653.0,58.3 1656.3,57.6 1659.1,56.7 1661.9,55.8 1660.7,55.3 1659.6,54.7 1662.5,54.1 1665.5,53.5 1668.4,53.0 1671.5,52.2 1674.6,51.4 1677.2,51.3 1679.9,51.1 1682.5,51.0 1685.2,50.9 1687.8,50.7 1690.3,50.5 1692.9,50.3 1695.4,50.1 1697.9,49.8 1700.6,49.5 1703.4,49.2 1706.1,48.9 1708.8,48.6 1711.5,48.3 1713.9,48.1 1716.4,47.9 1718.9,47.8 1721.4,47.9 1723.8,48.1 1726.3,48.3 1728.8,48.5 1731.3,48.7 1733.2,49.2 1735.0,49.8 1736.9,50.3 1733.9,51.8 1736.9,51.8 1739.8,51.8 1742.8,51.8 1745.8,51.8 1748.5,52.3 1751.1,52.7 1748.5,53.6 1745.8,54.5 1743.1,55.4 1740.7,56.7 1738.2,58.1 1735.5,61.4 1735.4,64.8 1733.1,67.0 1730.8,69.2 1727.6,71.5 1727.9,73.7 1726.3,76.4 1723.6,76.6 1720.8,76.8 1723.8,77.4 1726.9,77.9 1723.8,79.3 1721.3,80.4 1718.7,81.5 1716.1,81.8 1713.6,82.1 1711.0,82.4 1708.0,83.4 1704.9,84.4 1701.7,85.8 1698.4,87.3 1696.0,87.6 1693.5,88.0 1689.6,90.4 1687.2,93.3 1683.6,96.4 1681.6,99.3ZM1723.0,91.9 1724.2,90.7 1722.4,90.2 1720.6,89.6 1722.6,89.4 1724.5,89.1 1722.2,88.6 1720.0,88.2 1722.8,86.2 1725.7,88.2 1728.7,86.8 1730.6,86.8 1732.5,86.7 1736.1,86.0 1738.9,86.8 1740.5,88.9 1738.4,90.6 1734.5,92.0 1732.2,92.4 1730.0,92.9 1726.8,92.4 1724.9,92.1ZM1639.7,96.7 1637.3,95.3 1636.1,93.7 1634.9,92.1 1637.3,93.0 1639.8,94.0 1642.1,93.1 1642.4,90.2 1641.0,88.1 1639.6,86.0 1641.6,87.1 1643.6,88.2 1645.6,89.3 1648.4,87.5 1651.2,85.7 1648.9,84.4 1646.6,83.1 1645.1,81.5 1643.6,79.9 1642.1,77.5 1640.0,76.5 1637.8,75.5 1635.5,74.8 1633.2,74.1 1631.6,73.1 1630.1,72.1 1628.7,71.5 1626.2,70.7 1623.7,69.9 1620.6,69.9 1617.5,69.9 1615.6,73.7 1612.9,73.7 1611.9,71.9 1611.1,70.1 1606.5,73.0 1604.9,75.9 1606.2,76.7 1607.5,77.5 1610.0,77.8 1612.5,78.2 1614.7,78.3 1616.9,78.4 1619.4,78.2 1621.8,77.9 1623.4,78.3 1625.0,78.6 1627.2,80.3 1629.5,81.9 1630.4,83.7 1628.8,86.0 1627.2,88.2 1624.6,89.5 1621.9,89.8 1619.2,90.1 1616.5,90.4 1618.2,90.9 1621.6,90.7 1625.0,90.6 1626.9,91.6 1628.8,92.6 1630.8,93.6 1632.8,94.7 1635.1,95.3 1637.4,96.0ZM1552.8,78.4 1553.8,79.4 1554.8,80.4 1557.0,80.7 1559.2,81.0 1561.3,81.4 1564.0,81.1 1566.7,80.9 1569.4,80.6 1572.5,80.7 1575.7,80.8 1578.2,79.9 1580.7,79.0 1580.3,77.3 1584.1,76.1 1582.8,74.1 1581.6,72.9 1580.5,71.7 1578.1,71.3 1575.7,71.0 1573.7,71.3 1571.6,71.7 1569.5,71.3 1567.5,70.9 1565.5,70.6 1561.9,71.1 1558.2,71.7 1554.4,73.7 1556.1,74.4 1557.7,75.0 1555.2,74.8 1552.7,74.6 1553.3,76.8 1555.6,77.0 1557.9,77.1 1560.2,77.3 1556.4,77.7 1552.7,78.2ZM1544.7,75.7 1543.2,74.7 1541.7,73.8 1543.6,71.5 1550.0,68.6 1552.4,68.3 1554.8,68.1 1556.9,68.3 1559.0,68.6 1561.2,68.8 1562.0,69.7 1562.9,70.6 1559.5,71.2 1556.5,72.5 1553.5,73.7 1551.1,74.4 1548.6,75.0ZM1634.4,63.9 1632.1,63.9 1629.8,63.9 1627.5,63.9 1624.7,63.9 1621.9,63.9 1619.1,63.9 1616.3,63.9 1616.5,61.9 1620.0,60.9 1623.5,59.9 1623.5,58.1 1627.1,56.6 1630.7,55.2 1628.6,55.0 1626.6,54.9 1624.6,54.7 1624.4,53.5 1624.3,52.3 1627.5,51.8 1630.7,51.4 1633.9,50.9 1636.8,50.5 1639.7,50.1 1642.6,49.6 1645.4,49.2 1648.1,49.1 1650.7,49.1 1653.4,49.0 1656.0,49.0 1658.6,49.0 1661.3,48.9 1663.6,49.3 1666.0,49.6 1668.4,49.9 1670.8,50.3 1666.4,52.5 1663.9,53.1 1661.4,53.6 1658.4,54.5 1655.5,55.4 1652.5,56.3 1650.0,56.7 1647.4,57.0 1644.9,57.4 1641.7,59.2 1642.2,60.5 1639.0,61.3 1635.8,62.1ZM1627.8,67.9 1625.4,68.0 1623.0,68.0 1620.6,68.1 1617.7,68.1 1614.8,68.1 1611.8,68.1 1609.4,67.9 1607.0,67.7 1609.3,65.0 1607.4,64.5 1605.5,64.1 1603.7,63.7 1606.6,63.6 1609.5,63.5 1612.5,63.4 1613.1,64.7 1613.7,65.9 1616.8,65.7 1619.9,65.4 1622.9,65.2 1625.1,65.4 1627.3,65.5 1629.5,65.7ZM1622.6,59.9 1619.9,59.8 1617.2,59.7 1614.4,59.6 1613.1,58.5 1611.8,57.4 1615.2,55.8 1618.7,54.3 1620.9,53.7 1623.2,53.2 1624.5,54.2 1625.8,55.2 1622.9,56.3 1620.1,57.4 1621.3,58.6ZM1583.1,67.0 1580.3,67.2 1577.4,67.4 1574.6,67.4 1571.8,67.3 1568.9,67.2 1566.8,66.8 1564.7,66.3 1568.9,64.1 1571.3,64.2 1573.8,64.3 1576.5,64.0 1579.2,63.6 1581.9,63.2 1583.6,64.0 1585.4,64.8ZM1597.1,67.0 1594.9,67.0 1592.7,67.0 1591.6,66.3 1590.5,65.7 1593.4,63.7 1596.1,63.5 1598.8,63.4 1600.0,64.8ZM1569.7,64.1 1566.3,64.4 1562.9,64.8 1560.2,64.5 1557.4,64.3 1561.0,63.1 1564.7,61.9 1567.9,61.6 1571.2,61.4ZM1591.5,74.6 1589.4,74.9 1587.3,75.3 1585.7,74.5 1584.1,73.7 1585.1,71.5 1587.7,70.6 1590.3,69.7 1592.4,69.8 1594.5,69.9 1594.9,71.9ZM1600.4,73.5 1598.2,73.5 1596.0,73.5 1598.5,70.1 1602.3,69.0 1604.9,69.1 1607.4,69.2 1607.0,71.5 1603.7,72.5ZM1590.1,81.3 1588.3,81.3 1586.4,81.3 1585.0,80.7 1583.5,80.2 1587.6,78.4 1589.3,78.8 1591.0,79.3ZM1610.6,92.6 1608.5,92.1 1606.4,91.5 1604.0,92.4 1601.6,93.3 1599.2,92.4 1603.5,88.2 1605.7,87.7 1607.8,87.3 1608.8,88.9 1610.8,90.4 1612.7,91.5ZM1601.7,60.5 1599.7,60.3 1597.7,60.1 1595.7,59.9 1595.3,58.1 1597.8,58.1 1600.3,58.1 1602.8,58.1 1604.8,58.5 1606.8,59.0 1604.3,59.8ZM1609.3,61.4 1607.6,61.4 1605.9,61.4 1606.1,59.6 1608.6,59.6 1611.1,59.6ZM1611.5,96.7 1610.8,95.3 1612.3,95.1ZM1641.2,128.1 1643.4,126.1 1642.4,125.9 1645.2,123.6 1647.8,120.7 1651.4,119.2 1649.7,121.2 1647.6,123.2 1650.3,123.0 1653.1,124.1 1654.6,125.6 1653.4,127.4 1654.9,128.3 1653.6,130.2 1651.8,129.9 1652.4,128.3 1648.9,129.7 1648.4,128.5 1646.4,128.1 1644.0,127.9ZM1501.3,121.0 1504.1,121.7 1506.9,122.5 1508.8,124.5 1509.1,126.3 1506.1,126.1 1504.5,124.8 1501.7,122.5ZM1496.3,113.4 1498.7,113.8 1497.7,117.8 1496.1,116.1ZM1457.7,106.2 1460.7,105.1 1463.8,104.0 1463.4,105.8 1458.5,107.6ZM1631.8,123.0 1634.2,123.5 1636.6,124.1 1637.1,124.8 1633.5,124.3ZM1630.2,129.7 1632.6,130.2 1635.0,130.7 1633.7,131.7 1630.6,130.6ZM1575.0,185.5 1579.5,183.0 1580.9,182.6 1585.1,182.7 1588.2,184.3 1591.3,185.6 1594.5,187.0 1598.2,189.0 1596.4,189.9 1594.6,189.8 1590.4,190.0 1591.7,188.3 1588.9,187.4 1588.6,186.1 1584.7,185.2 1581.9,184.7 1581.1,184.3 1578.2,184.7ZM1597.3,193.3 1600.9,193.8 1601.8,193.0 1601.0,191.9 1599.9,190.3 1603.0,189.9 1605.2,190.0 1607.4,190.1 1609.1,191.2 1610.8,192.5 1610.0,193.7 1607.1,193.4 1604.5,194.8 1603.4,194.7 1602.6,193.8 1598.6,194.0ZM1588.7,193.2 1590.9,193.4 1593.1,193.7 1593.0,194.3 1591.0,194.7 1588.6,193.7ZM1613.4,193.0 1616.9,193.2 1616.2,194.2 1613.3,194.1ZM1624.0,210.4 1626.1,210.2 1625.9,211.7 1623.9,211.8ZM1590.6,178.1 1591.7,178.1 1591.6,180.3 1590.3,179.8ZM1592.9,174.3 1593.9,174.9 1593.2,176.5ZM1589.8,174.7 1592.0,174.7 1590.6,175.2ZM1589.2,215.0 1590.3,216.4 1590.2,215.1 1593.2,213.1 1593.5,211.1 1595.2,209.6 1596.5,209.1 1599.3,208.6 1601.1,207.7 1603.2,206.6 1602.4,206.5 1603.5,207.9 1601.7,209.5 1602.3,209.9 1602.9,211.9 1601.5,213.3 1603.0,213.7 1603.6,210.8 1602.8,209.7 1605.5,208.6 1606.1,207.0 1606.4,208.6 1609.7,209.9 1610.3,210.8 1614.6,210.6 1617.0,211.7 1618.8,210.8 1622.0,210.4 1624.0,210.4 1622.6,211.5 1625.9,212.8 1628.0,215.3 1630.2,216.4 1632.4,219.1 1634.6,221.1 1638.9,221.1 1641.3,221.3 1645.1,223.3 1647.3,224.9 1648.2,227.3 1649.0,229.8 1650.2,232.2 1649.3,234.2 1652.4,234.7 1653.7,234.9 1655.1,235.6 1659.1,236.5 1663.0,239.8 1665.9,239.6 1669.3,240.7 1672.6,240.6 1676.0,242.5 1679.0,245.0 1682.8,245.6 1683.5,247.2 1684.5,250.1 1684.3,252.3 1683.0,255.4 1681.1,257.7 1679.7,258.8 1678.5,261.0 1676.6,263.2 1675.6,267.3 1675.8,271.0 1675.5,273.9 1674.7,278.0 1673.4,279.5 1672.1,282.9 1670.1,285.3 1667.5,285.5 1664.2,286.2 1660.8,287.8 1657.5,290.0 1656.3,291.3 1656.4,294.2 1656.7,295.8 1656.3,298.0 1654.0,300.5 1652.2,303.4 1650.1,306.1 1647.8,309.4 1646.7,311.2 1645.0,312.2 1642.1,312.1 1638.5,311.0 1637.1,310.1 1637.3,311.4 1640.2,313.4 1641.6,315.2 1640.5,319.0 1637.6,320.6 1634.3,320.8 1631.0,321.0 1631.8,324.6 1630.1,325.9 1627.9,325.6 1625.7,325.2 1626.3,327.9 1629.6,329.2 1628.3,329.9 1627.0,330.8 1627.0,333.5 1626.6,334.6 1623.2,336.8 1625.9,339.1 1627.6,340.8 1625.2,344.2 1623.0,346.4 1623.7,349.3 1625.5,351.1 1625.9,351.8 1626.5,353.1 1628.3,354.7 1630.9,355.4 1633.6,356.1 1631.3,357.0 1628.7,358.2 1630.4,359.1 1627.9,358.3 1625.4,357.6 1623.0,356.5 1620.6,355.3 1616.1,352.9 1612.5,350.7 1610.0,346.9 1608.4,343.1 1609.8,340.8 1606.8,338.4 1609.0,334.6 1607.6,330.8 1607.2,327.5 1606.8,323.4 1606.7,320.1 1605.6,317.2 1606.5,316.1 1607.0,313.4 1607.5,310.6 1608.1,307.8 1607.8,305.6 1607.5,303.4 1607.3,300.9 1607.5,298.3 1607.6,295.6 1607.7,293.2 1607.8,290.9 1607.5,286.9 1607.5,284.5 1607.5,282.2 1607.2,279.3 1606.5,275.5 1603.8,273.1 1601.2,271.5 1598.9,270.4 1596.6,269.3 1592.5,265.5 1590.2,261.1 1588.8,258.8 1587.4,256.6 1585.9,253.2 1585.3,252.3 1583.3,249.6 1580.5,247.6 1580.0,245.4 1579.9,244.6 1582.1,241.8 1583.0,239.8 1580.8,239.2 1580.5,239.2 1581.2,236.5 1582.5,234.2 1582.6,232.5 1583.5,232.0 1585.5,230.7 1587.3,228.5 1589.1,225.8 1588.6,222.0 1588.9,219.5 1587.8,218.2ZM1639.7,349.5 1641.9,348.6 1644.0,348.9 1646.6,349.2 1645.9,350.4 1643.6,350.9 1640.8,350.7ZM1906.4,343.5 1909.6,343.7 1909.8,344.9 1907.3,345.1 1906.4,344.6ZM1750.8,154.4 1752.1,154.2 1754.6,154.9 1757.0,155.5 1759.4,156.0 1762.1,154.6 1764.4,153.7 1766.8,152.9 1770.1,152.2 1772.3,152.2 1774.5,152.2 1778.4,151.9 1780.3,151.9 1782.5,151.5 1784.7,151.1 1787.2,151.6 1786.3,153.1 1786.4,154.4 1787.4,155.8 1786.8,156.9 1785.3,158.7 1787.4,160.2 1789.7,160.5 1792.0,160.9 1794.1,161.4 1796.3,162.0 1797.4,164.2 1801.4,165.3 1804.6,166.7 1806.8,165.3 1806.9,162.7 1810.4,160.9 1813.5,161.6 1815.4,162.8 1818.1,163.8 1822.0,164.2 1824.2,164.8 1826.4,165.5 1828.3,164.7 1830.7,163.8 1833.6,164.5 1834.2,167.5 1834.7,169.6 1836.7,172.3 1837.2,173.6 1838.9,176.9 1841.2,180.7 1842.9,183.0 1844.5,185.2 1845.0,187.9 1845.5,190.5 1848.4,194.1 1849.5,196.8 1850.6,199.5 1854.6,201.7 1857.4,204.8 1859.4,206.4 1859.1,208.4 1861.1,210.9 1863.3,210.9 1865.6,210.2 1867.8,209.4 1870.0,209.2 1872.2,209.1 1874.8,208.4 1877.3,207.8 1877.7,210.9 1876.4,213.3 1874.2,216.9 1872.9,219.4 1871.6,222.0 1869.8,224.2 1868.1,226.4 1864.4,229.7 1860.2,232.9 1858.1,235.0 1855.7,238.0 1854.4,239.4 1852.6,241.4 1851.6,243.3 1850.5,245.4 1849.6,247.6 1850.7,249.4 1851.1,252.1 1850.8,254.3 1852.6,257.2 1853.5,258.1 1853.2,262.1 1853.3,265.5 1853.6,267.7 1851.8,270.6 1849.6,271.7 1847.3,272.8 1845.0,274.2 1842.7,276.4 1840.2,278.4 1839.7,280.4 1841.0,282.2 1841.4,283.5 1841.3,287.3 1840.1,289.3 1837.9,290.1 1835.6,290.9 1834.7,292.2 1835.3,294.5 1834.3,297.8 1831.0,300.9 1828.6,304.0 1826.2,305.9 1823.8,307.8 1821.4,309.0 1819.0,310.1 1815.3,310.3 1811.4,310.3 1809.0,311.1 1806.6,311.9 1804.3,311.0 1803.3,310.9 1803.2,309.8 1802.4,307.4 1803.1,304.9 1800.9,301.1 1799.1,298.0 1797.7,295.8 1796.2,293.6 1795.6,290.7 1794.9,287.8 1794.9,285.4 1792.7,281.1 1791.1,278.3 1789.4,275.5 1788.9,272.7 1789.0,269.9 1789.8,268.1 1791.2,265.2 1792.6,262.3 1793.5,258.8 1792.8,256.3 1792.1,253.9 1791.2,249.9 1790.1,247.6 1789.1,245.0 1787.2,242.7 1784.1,239.6 1782.0,235.7 1783.7,233.4 1784.1,231.8 1784.4,230.0 1784.5,227.6 1784.1,225.3 1782.5,224.0 1781.1,224.2 1778.2,224.4 1776.2,224.7 1774.6,222.7 1772.6,220.2 1770.1,220.0 1767.9,220.1 1765.2,220.6 1762.1,221.9 1757.8,223.7 1755.3,222.9 1753.5,222.5 1751.3,223.0 1749.0,223.5 1745.2,224.5 1741.9,222.7 1738.3,220.2 1736.7,218.9 1734.3,217.5 1732.8,215.3 1732.8,213.5 1731.9,213.1 1729.9,210.8 1728.8,209.7 1727.7,207.8 1725.3,206.6 1725.5,204.3 1723.6,201.5 1725.2,199.0 1725.9,198.6 1726.5,195.2 1727.2,193.9 1726.8,191.0 1725.0,187.9 1725.4,185.9 1726.9,183.0 1727.8,181.4 1729.9,179.4 1731.1,176.0 1733.7,173.6 1734.8,171.9 1738.2,170.0 1740.9,168.7 1742.2,166.5 1741.8,164.2 1741.9,164.0 1743.2,162.2 1746.9,159.3 1748.6,158.3 1749.9,156.2ZM1872.9,261.0 1874.8,264.4 1875.3,268.4 1873.7,269.9 1872.6,273.3 1872.6,274.7 1871.1,278.9 1869.9,281.6 1868.8,284.4 1867.6,287.2 1866.5,290.0 1862.5,291.3 1859.9,290.0 1859.4,286.7 1858.7,283.3 1861.1,279.5 1860.5,276.6 1860.9,274.4 1861.3,272.2 1861.8,270.4 1865.9,269.3 1868.2,267.5 1869.8,265.5 1870.5,264.1 1871.9,261.9ZM1882.0,205.9 1884.5,206.2 1882.9,206.8ZM1752.0,153.6 1750.0,152.9 1748.7,151.3 1746.5,151.5 1744.3,151.7 1744.8,148.6 1743.4,147.8 1743.8,146.4 1744.8,144.6 1745.4,142.5 1745.2,140.4 1744.3,138.6 1746.3,137.5 1747.4,136.7 1749.6,136.8 1751.8,136.9 1753.9,137.1 1756.0,137.2 1757.7,137.5 1760.2,137.5 1761.4,135.0 1761.9,132.6 1761.7,131.2 1760.1,129.9 1759.8,128.9 1758.5,128.3 1755.2,127.7 1754.5,127.1 1754.5,126.3 1757.2,125.4 1760.3,125.8 1761.1,125.8 1761.2,123.5 1762.0,123.4 1762.2,124.2 1764.1,124.3 1764.7,123.9 1766.8,122.9 1767.9,122.3 1767.9,121.1 1768.4,120.6 1769.6,120.4 1770.6,120.0 1771.7,119.6 1772.9,119.2 1773.1,118.3 1774.5,116.2 1775.8,115.6 1777.5,115.1 1779.1,115.2 1779.5,114.5 1781.1,114.5 1782.1,114.8 1782.5,114.1 1782.9,113.6 1782.4,113.0 1782.5,111.8 1781.4,110.4 1781.4,108.3 1781.6,107.1 1782.4,106.9 1784.4,106.2 1786.4,105.5 1786.3,106.1 1785.8,107.4 1787.0,108.5 1785.6,109.0 1784.8,110.5 1784.6,111.2 1784.2,112.0 1785.5,112.9 1787.2,112.9 1787.0,113.9 1788.2,113.8 1789.4,113.4 1790.2,112.8 1792.0,112.4 1792.9,113.6 1793.9,114.1 1797.3,113.3 1799.3,112.3 1801.9,112.0 1802.7,112.9 1804.6,112.8 1805.1,111.7 1807.3,110.9 1807.5,110.0 1807.2,108.3 1807.2,107.1 1808.2,106.2 1810.2,105.5 1811.5,106.5 1812.9,107.1 1813.9,106.7 1813.7,105.1 1813.9,104.1 1811.9,103.6 1811.8,102.2 1814.2,101.7 1816.7,101.3 1818.7,101.5 1820.6,101.6 1821.6,100.9 1824.9,100.6 1822.5,100.0 1821.8,98.9 1818.5,99.3 1816.5,99.7 1814.5,100.1 1812.6,100.5 1810.7,100.9 1808.7,99.7 1807.3,99.1 1807.4,97.8 1807.6,96.9 1806.9,95.1 1807.4,93.5 1809.2,92.2 1812.0,90.4 1814.6,89.3 1812.8,87.6 1812.1,87.5 1808.4,88.1 1807.2,89.3 1806.6,90.2 1805.2,92.2 1802.6,93.3 1800.7,94.9 1799.6,95.2 1799.4,96.7 1799.3,98.9 1801.9,99.8 1802.7,100.9 1801.8,102.0 1799.1,103.5 1798.5,105.1 1798.2,107.1 1798.0,107.9 1797.2,109.0 1796.4,109.0 1794.6,109.1 1793.8,110.3 1793.6,110.7 1792.8,110.7 1791.5,110.8 1791.1,110.4 1790.6,109.3 1790.2,108.7 1791.0,107.9 1789.0,105.6 1787.6,104.0 1787.4,102.7 1786.4,102.2 1786.6,100.7 1786.0,102.0 1784.8,102.7 1781.3,104.6 1779.4,104.9 1777.1,104.0 1776.5,102.9 1775.8,101.8 1775.9,99.6 1775.5,98.2 1775.6,96.2 1775.9,95.5 1777.7,94.9 1779.5,94.0 1780.9,93.5 1782.4,92.6 1784.7,92.2 1786.2,90.9 1787.6,89.5 1789.1,88.2 1790.2,86.6 1791.0,85.3 1793.6,84.2 1794.6,82.8 1792.8,82.7 1790.9,82.6 1793.7,81.5 1796.5,81.7 1799.1,81.7 1797.4,80.8 1795.5,79.9 1797.3,79.8 1799.2,79.7 1801.7,78.9 1804.6,77.9 1806.4,77.5 1809.0,76.8 1810.3,76.7 1812.2,76.1 1814.0,75.6 1816.2,76.1 1817.5,75.7 1819.9,76.3 1821.8,76.8 1823.9,77.4 1822.0,77.8 1820.1,78.2 1822.0,78.7 1822.1,78.8 1824.8,78.8 1827.6,79.4 1828.0,80.4 1828.6,79.7 1831.4,79.9 1833.3,80.5 1835.3,81.0 1837.2,81.7 1839.2,82.4 1842.4,84.4 1843.9,85.4 1842.7,86.4 1840.9,86.7 1839.1,87.0 1837.2,86.7 1835.2,86.5 1833.3,86.1 1831.4,85.7 1829.4,85.2 1827.4,84.6 1829.5,86.0 1831.6,87.3 1832.6,90.4 1835.0,91.5 1837.9,91.8 1838.9,91.8 1836.6,89.3 1839.5,89.6 1842.5,90.2 1843.4,90.3 1842.1,88.2 1843.8,87.2 1845.5,86.2 1847.5,86.4 1849.4,86.6 1849.9,87.1 1848.2,85.3 1848.5,84.2 1848.8,81.9 1846.9,81.2 1849.0,81.3 1851.1,81.5 1852.4,83.1 1853.8,82.9 1855.8,83.5 1854.7,85.1 1857.1,83.3 1858.9,82.9 1860.6,82.6 1862.8,81.9 1864.9,81.3 1867.0,82.2 1868.7,81.5 1870.9,81.2 1873.1,80.9 1876.2,81.7 1877.8,81.0 1878.5,78.8 1882.1,79.4 1885.7,79.9 1888.4,80.8 1891.0,81.7 1893.8,81.7 1890.0,79.0 1888.7,76.6 1889.2,74.8 1890.4,72.1 1891.9,70.8 1894.8,71.2 1898.3,73.7 1898.4,75.9 1901.1,79.3 1904.0,82.6 1902.1,86.4 1903.8,84.7 1905.4,83.1 1905.3,80.4 1903.4,78.2 1901.5,75.9 1901.4,71.9 1903.9,72.5 1906.4,73.0 1908.1,72.8 1911.2,73.7 1914.3,74.4 1918.4,77.0 1914.6,73.2 1910.3,70.3 1913.4,70.0 1916.5,69.8 1919.5,69.5 1919.8,67.0 1921.9,66.3 1924.1,65.7 1926.2,65.4 1928.3,65.1 1930.4,64.8 1932.6,64.6 1934.8,64.5 1936.9,64.3 1938.4,64.0 1939.8,63.7 1941.6,62.8 1943.3,61.9 1944.9,61.0 1947.3,61.5 1949.6,62.1 1951.9,63.7 1954.7,63.7 1957.6,63.7 1960.4,63.7 1964.8,65.7 1963.3,67.4 1961.7,69.2 1964.1,69.5 1966.5,69.7 1963.9,70.0 1961.3,70.3 1958.6,70.7 1956.0,71.0 1958.9,70.8 1961.9,70.6 1964.8,70.3 1967.7,70.1 1971.0,70.2 1974.3,70.3 1977.7,70.3 1981.3,71.5 1983.9,71.5 1986.6,71.5 1989.1,70.8 1991.6,70.1 1994.6,70.9 1997.5,71.7 2000.0,73.9 2005.0,76.1 2006.3,75.5 2007.5,74.8 2009.6,74.7 2011.8,74.6 2013.9,74.9 2016.0,75.3 2017.1,74.5 2018.2,73.7 2018.2,71.9 2020.7,72.1 2023.1,72.4 2026.0,72.6 2028.9,72.8 2032.4,73.1 2035.9,73.5 2040.9,75.7 2042.9,75.9 2045.0,76.1 2047.3,76.1 2049.7,76.0 2052.0,75.9 2055.1,76.7 2058.2,77.5 2060.9,78.4 2063.7,79.3 2066.9,79.3 2070.1,79.3 2072.4,78.8 2074.7,78.4 2077.6,79.4 2080.5,80.4 2078.7,77.9 2081.4,78.3 2084.1,78.6 2087.1,78.8 2090.1,79.0 2092.7,79.4 2095.4,79.7 2099.1,80.5 2102.2,81.2 2105.3,81.9 2108.8,82.9 2112.2,83.9 2115.6,84.4 2118.9,85.0 2122.1,85.9 2125.3,86.8 2124.3,88.2 2124.0,90.6 2121.8,90.4 2119.7,90.2 2115.3,88.6 2111.8,88.0 2108.2,87.3 2108.9,88.9 2107.1,90.0 2104.3,90.0 2108.7,92.6 2112.7,95.3 2110.4,95.2 2108.1,95.1 2106.2,95.8 2104.4,96.4 2102.8,97.4 2101.2,98.4 2099.6,100.6 2096.1,100.2 2092.5,99.8 2090.9,100.2 2089.3,100.7 2086.5,100.9 2088.3,103.8 2086.8,105.4 2091.0,107.8 2092.1,109.1 2091.1,111.6 2089.8,112.7 2088.5,113.8 2089.6,115.6 2087.2,116.1 2087.7,118.3 2085.9,120.7 2083.0,118.3 2081.3,116.1 2079.6,113.8 2078.4,111.6 2077.2,109.4 2076.8,105.8 2078.1,104.8 2079.4,103.8 2080.6,101.8 2081.8,99.8 2082.7,98.4 2083.6,97.1 2082.9,95.1 2081.6,97.1 2079.7,97.7 2077.6,98.2 2076.5,96.2 2074.5,96.4 2072.6,96.7 2070.5,97.8 2069.9,100.9 2068.7,102.0 2066.2,102.7 2062.1,101.6 2058.5,101.6 2055.7,101.8 2052.9,102.0 2050.1,102.0 2047.3,101.9 2045.8,102.8 2044.2,103.8 2043.1,105.1 2041.9,106.5 2040.9,110.0 2039.1,112.3 2043.0,113.8 2045.2,114.3 2046.8,113.4 2049.7,114.9 2051.5,115.7 2052.5,117.6 2052.7,120.5 2054.0,123.9 2054.3,125.1 2053.1,128.3 2052.2,131.0 2050.3,133.9 2048.3,136.8 2046.5,137.8 2044.8,138.8 2042.2,138.1 2040.4,139.9 2039.1,141.7 2039.4,143.3 2036.4,145.1 2035.9,146.8 2038.3,148.4 2041.1,151.3 2042.3,154.0 2042.0,156.0 2039.8,156.6 2036.9,157.8 2036.2,156.6 2035.9,154.0 2034.9,152.0 2035.2,150.8 2033.2,150.0 2031.3,149.3 2031.3,147.9 2031.0,146.4 2028.8,145.3 2026.0,145.9 2023.5,147.5 2022.2,146.2 2023.7,143.9 2020.9,143.2 2018.5,145.3 2015.6,146.9 2015.1,147.5 2017.4,149.5 2019.1,150.2 2018.7,151.1 2020.7,151.3 2022.5,150.0 2026.4,150.8 2026.7,152.0 2024.7,152.9 2022.7,153.9 2020.9,156.2 2021.3,156.9 2023.7,158.4 2025.6,160.9 2028.1,163.1 2028.6,164.5 2028.8,165.3 2026.9,166.7 2029.1,167.6 2029.6,168.0 2029.3,170.7 2028.0,172.0 2027.0,174.5 2026.0,176.3 2025.0,178.1 2023.3,179.6 2021.2,181.8 2020.6,182.3 2018.2,183.6 2015.4,184.5 2014.0,183.6 2013.9,184.7 2010.8,185.9 2008.6,186.5 2007.6,187.0 2007.6,189.0 2006.5,189.0 2006.0,186.5 2004.4,186.3 2002.6,186.1 2001.8,186.3 1999.5,188.1 1998.0,190.1 1997.6,192.3 1999.6,194.6 2001.4,196.8 2004.0,198.3 2005.6,200.4 2006.5,203.5 2007.2,205.9 2006.9,207.9 2004.6,209.9 2002.4,211.2 2001.6,212.4 2000.5,213.5 1997.5,215.1 1997.6,212.6 1998.0,211.9 1996.3,211.1 1994.5,210.8 1993.1,209.1 1991.8,207.3 1989.5,206.0 1988.1,205.3 1988.0,204.3 1987.1,204.1 1986.1,204.6 1986.0,207.5 1984.7,210.8 1985.1,213.5 1986.7,215.3 1987.7,218.0 1990.2,219.1 1991.9,220.4 1994.4,223.5 1994.8,226.4 1996.1,229.1 1996.6,231.2 1995.0,231.4 1992.1,229.3 1990.0,227.6 1988.4,224.9 1987.6,222.2 1987.4,220.0 1985.9,218.2 1983.6,216.4 1983.0,216.9 1983.1,214.2 1983.3,210.8 1983.1,207.5 1982.0,204.1 1980.6,200.8 1980.1,197.5 1978.2,196.3 1977.0,197.2 1975.1,199.0 1972.9,198.6 1972.6,198.6 1973.0,195.2 1971.1,191.9 1968.9,189.4 1967.1,187.4 1965.9,184.5 1963.6,184.1 1963.1,185.2 1960.9,185.6 1959.0,186.1 1957.6,185.6 1955.5,186.5 1955.2,188.1 1953.2,190.1 1951.5,191.2 1948.1,194.8 1946.0,197.2 1946.1,197.9 1943.5,199.0 1941.4,200.8 1942.1,205.0 1941.1,207.9 1941.4,211.3 1939.6,213.5 1937.8,214.4 1936.4,216.2 1934.9,215.3 1933.2,212.1 1932.2,209.2 1929.8,205.5 1928.5,202.7 1927.3,199.9 1925.9,196.3 1925.2,194.1 1924.5,191.9 1924.0,189.0 1923.9,187.2 1923.2,184.7 1922.5,187.0 1920.2,188.1 1917.9,187.4 1915.5,184.5 1918.2,183.2 1915.4,183.4 1914.1,181.8 1911.9,181.0 1910.4,178.9 1909.4,177.6 1907.2,177.8 1905.0,178.1 1902.6,178.2 1900.2,178.3 1898.4,178.3 1896.4,177.8 1892.8,177.6 1890.2,177.1 1888.2,174.5 1886.6,173.7 1883.4,175.2 1880.5,174.7 1878.2,172.9 1874.3,169.8 1872.8,167.3 1870.1,166.7 1869.1,167.5 1868.0,168.7 1869.5,170.9 1871.7,173.4 1873.3,175.2 1874.7,178.5 1875.1,176.0 1876.6,177.8 1876.2,179.4 1878.7,180.3 1882.0,180.3 1882.9,179.6 1884.7,177.8 1886.2,176.5 1887.0,175.5 1887.2,178.5 1888.2,180.1 1892.3,181.6 1895.1,184.1 1893.5,186.8 1892.1,188.8 1891.2,191.9 1889.4,192.3 1888.0,194.2 1885.6,195.2 1882.9,196.3 1879.0,198.6 1876.4,200.1 1872.2,201.9 1868.7,203.7 1866.0,204.7 1863.2,205.7 1859.9,205.9 1859.3,204.6 1858.5,201.2 1857.8,197.9 1857.5,196.6 1855.0,193.4 1853.1,190.8 1851.3,188.5 1849.5,186.3 1848.0,183.0 1846.9,180.5 1844.9,177.4 1843.0,175.2 1840.9,172.7 1839.6,171.6 1839.6,168.5 1839.0,170.0 1838.2,172.4 1836.5,170.9 1835.3,169.6 1834.2,167.5 1833.6,164.5 1836.2,164.9 1837.9,164.2 1838.8,162.8 1839.3,161.1 1840.2,158.7 1840.8,157.4 1840.6,155.1 1841.4,152.6 1840.1,152.6 1837.9,152.2 1834.2,153.9 1832.3,152.7 1829.5,152.1 1828.9,153.4 1826.1,152.7 1824.3,152.2 1822.4,151.7 1821.9,150.2 1821.0,148.6 1820.2,148.8 1820.9,147.3 1819.4,146.2 1819.6,145.1 1819.6,144.9 1819.1,143.7 1818.9,143.2 1815.7,143.0 1814.2,143.6 1815.5,144.7 1814.7,145.1 1813.6,145.2 1812.6,143.7 1811.9,145.1 1813.0,146.6 1812.6,147.5 1814.2,148.6 1815.1,149.1 1815.1,150.3 1814.4,149.7 1812.9,149.7 1814.0,150.7 1813.3,151.1 1812.4,150.5 1813.0,152.2 1813.4,153.0 1812.6,152.2 1811.9,153.1 1811.1,151.9 1810.6,152.3 1810.2,152.2 1809.8,151.3 1809.3,150.2 1808.8,149.8 1810.1,149.0 1809.2,148.7 1808.6,148.7 1808.0,147.5 1806.8,146.1 1806.4,145.4 1805.1,144.0 1805.1,142.2 1805.0,140.9 1804.3,140.4 1803.1,139.7 1802.2,139.1 1798.7,137.2 1796.0,135.9 1795.4,134.1 1794.4,133.2 1793.5,134.3 1793.2,134.2 1792.4,132.8 1793.0,132.5 1791.6,132.5 1790.0,133.0 1790.3,134.1 1789.9,135.1 1790.6,136.0 1792.5,137.0 1794.0,139.6 1795.7,140.6 1798.2,140.8 1797.8,141.7 1799.7,142.5 1802.1,143.6 1803.2,144.7 1802.9,145.5 1802.1,144.9 1800.4,144.0 1799.1,145.3 1800.2,146.6 1800.3,147.3 1799.0,147.9 1799.1,148.8 1798.0,149.6 1797.2,149.3 1797.6,148.1 1798.3,147.3 1797.2,145.1 1795.2,143.6 1794.1,143.2 1792.7,142.4 1790.6,141.8 1788.9,140.4 1787.4,139.7 1786.1,138.5 1785.7,137.1 1784.8,136.0 1782.8,135.2 1781.3,136.2 1779.4,136.8 1778.1,137.9 1776.5,138.1 1775.3,137.7 1773.7,137.5 1772.2,137.2 1770.3,138.4 1770.4,139.4 1770.9,139.9 1768.5,141.9 1766.4,142.6 1765.6,143.5 1763.8,145.2 1763.1,146.3 1764.1,147.8 1762.6,148.7 1762.1,150.4 1761.5,150.4 1759.7,151.3 1758.8,152.4 1758.3,152.1 1756.0,152.4 1754.1,152.4ZM1752.8,122.6 1753.9,122.9 1757.2,122.3 1759.6,121.6 1762.0,121.4 1765.2,121.1 1766.6,120.7 1767.4,120.2 1767.7,119.6 1765.9,119.4 1766.6,118.8 1767.4,118.4 1768.4,117.2 1767.5,116.2 1765.5,116.4 1765.1,116.2 1765.6,115.6 1765.1,114.7 1764.8,113.6 1763.8,112.7 1762.6,112.4 1762.2,111.6 1761.1,109.9 1761.0,109.6 1758.8,109.4 1760.0,108.7 1759.4,108.4 1761.2,106.8 1761.8,106.0 1761.4,105.6 1758.4,105.6 1757.4,105.9 1757.0,106.0 1757.8,105.2 1759.4,103.9 1759.5,103.5 1757.6,103.5 1755.6,103.6 1754.9,104.9 1753.8,106.0 1753.9,107.1 1752.9,107.8 1754.2,108.5 1753.9,109.8 1753.4,110.9 1754.9,110.7 1755.3,109.6 1755.7,110.5 1754.8,111.8 1755.2,112.4 1757.0,112.0 1758.0,111.8 1759.0,111.7 1757.7,112.7 1759.1,113.6 1758.8,114.3 1758.7,115.1 1757.8,115.4 1756.6,115.4 1755.6,115.2 1755.2,116.5 1756.5,116.3 1756.6,117.2 1755.2,118.1 1753.9,118.5 1754.2,119.1 1755.9,119.1 1756.6,119.2 1758.3,119.5 1759.3,119.2 1758.8,119.7 1758.3,120.1 1756.3,120.1 1755.4,120.5 1754.8,121.4 1753.7,122.1ZM1750.3,110.7 1752.7,111.2 1753.7,112.5 1754.0,112.9 1752.4,113.8 1752.5,115.3 1752.7,116.2 1751.8,117.8 1750.5,118.0 1748.0,118.7 1744.7,119.5 1743.9,118.7 1743.5,118.1 1745.1,117.0 1744.7,117.1 1746.6,115.7 1745.6,115.6 1744.2,115.2 1744.4,113.8 1744.8,113.2 1747.6,113.2 1748.5,112.5 1747.3,112.4 1748.4,111.3ZM1751.6,103.8 1753.2,104.0 1752.7,105.1 1750.6,106.7 1750.4,105.8 1751.3,104.9ZM1762.6,99.1 1764.0,98.9 1763.3,100.7 1762.3,100.0ZM1759.0,102.5 1760.4,102.2 1760.0,103.1 1758.8,102.9ZM1751.6,95.3 1753.4,95.3 1752.8,96.9 1751.7,96.2ZM1786.4,58.3 1788.0,56.3 1790.1,56.3 1792.1,56.3 1793.8,56.0 1795.4,55.7 1797.0,56.1 1798.7,56.5 1801.3,58.1 1803.0,58.3 1804.7,58.5 1804.0,59.9 1802.2,60.6 1800.4,61.4 1797.5,63.4 1795.7,63.0 1794.0,62.5 1791.4,60.5 1789.7,59.9 1788.0,59.2ZM1799.4,55.2 1802.3,55.0 1805.1,54.7 1807.8,55.0 1810.6,55.3 1813.4,55.6 1811.1,56.5 1808.7,57.4 1806.5,57.3 1804.3,57.1 1802.0,57.0ZM1803.9,59.2 1806.1,59.5 1808.2,59.9 1807.6,61.6 1805.0,61.2ZM1860.7,75.9 1862.6,76.3 1864.5,76.6 1866.3,76.7 1868.2,76.8 1870.0,76.7 1871.8,76.6 1868.1,73.7 1866.2,70.8 1867.5,69.5 1868.7,68.1 1870.9,66.9 1873.0,65.7 1875.1,65.2 1877.2,64.8 1879.3,64.3 1881.3,63.8 1883.3,63.3 1885.4,62.8 1882.8,62.8 1880.4,63.1 1878.0,63.4 1875.6,63.8 1873.2,64.1 1871.1,64.7 1869.1,65.3 1867.0,65.9 1865.8,67.2 1864.5,68.6 1862.6,70.8 1861.3,72.2 1860.0,73.7ZM1926.6,57.9 1928.9,57.3 1931.2,56.8 1933.4,56.3 1936.0,56.7 1938.5,57.0 1941.1,57.4 1945.3,59.2 1942.6,59.6 1939.8,59.9 1937.1,60.3 1934.0,59.6 1930.9,59.0 1928.7,58.4ZM1926.0,55.4 1926.6,54.3 1927.1,53.2 1925.5,53.2 1923.9,53.2 1922.6,54.1 1921.3,55.0 1919.9,55.8 1921.9,56.3 1923.9,56.7 1925.0,56.1ZM1936.3,57.6 1939.3,58.2 1942.4,58.7 1945.4,59.3 1948.4,59.9 1946.5,60.2 1944.6,60.6 1942.7,61.0 1940.3,60.8 1937.9,60.7 1935.6,60.5 1936.0,59.1ZM2006.5,66.6 2008.0,65.6 2009.5,64.5 2013.0,65.1 2016.4,65.6 2019.9,66.1 2018.8,66.7 2017.7,67.2 2015.5,67.4 2013.4,67.5 2011.2,67.7 2008.8,67.1ZM2021.9,66.3 2024.3,66.4 2026.7,66.5 2029.1,66.6 2031.9,67.4 2029.4,67.6 2026.9,67.7 2024.4,67.0ZM2014.8,69.5 2018.2,70.1 2021.5,70.8 2019.6,70.7 2017.7,70.6ZM2024.4,67.0 2024.0,65.9ZM2091.0,75.9 2092.6,75.4 2094.2,74.8 2098.2,75.9 2096.3,76.1 2094.3,76.4ZM1856.0,80.4 1858.0,79.5 1859.5,80.4 1857.5,81.0ZM1874.0,77.7 1875.8,77.8 1877.7,77.9 1877.1,78.8 1875.2,78.8ZM2053.0,112.9 2056.5,117.2 2058.3,120.5 2061.6,124.3 2060.5,125.0 2061.0,128.3 2063.2,129.9 2063.9,131.4 2061.2,130.1 2060.8,131.7 2059.4,128.3 2058.0,125.0 2056.4,121.6 2054.1,118.3 2052.4,115.2ZM2062.6,141.7 2064.7,143.9 2066.6,146.2 2065.4,148.8 2066.4,151.7 2066.0,153.3 2067.1,154.6 2065.5,156.4 2064.7,155.3 2063.8,155.8 2063.3,157.1 2062.0,157.1 2059.4,157.1 2059.4,157.8 2058.3,158.7 2057.5,159.7 2055.6,158.2 2055.7,157.1 2052.9,157.1 2049.9,157.8 2046.6,158.5 2046.5,157.3 2049.2,155.3 2052.3,155.0 2055.1,154.9 2056.5,154.6 2057.2,152.0 2058.1,150.6 2057.8,151.7 2059.0,152.2 2060.8,151.1 2061.4,149.7 2062.3,147.3 2061.9,145.1 2061.4,143.5 2061.6,142.4ZM2061.4,141.9 2062.6,141.3 2060.7,139.9 2062.0,139.7 2064.7,140.1 2067.3,140.6 2068.9,138.4 2071.3,137.6 2069.4,135.5 2067.6,136.1 2064.3,134.8 2061.1,132.8 2061.6,135.0 2061.9,137.7 2060.1,137.9 2060.8,139.3 2059.4,139.5 2060.7,141.7ZM2046.7,158.7 2048.6,159.3 2049.7,161.1 2049.2,164.2 2047.9,165.1 2046.6,164.2 2046.0,161.8 2044.6,160.7 2044.7,159.5ZM2049.8,158.9 2050.7,158.4 2053.1,157.5 2054.9,158.9 2054.2,160.2 2051.9,161.3 2050.3,160.0ZM2029.5,178.5 2031.5,178.5 2031.2,181.8 2030.3,185.3 2028.2,183.0 2028.3,180.7ZM2004.2,191.4 2005.7,189.7 2008.4,189.4 2009.2,190.5 2007.9,192.8 2006.2,193.7 2004.3,192.8ZM1942.2,212.4 1944.6,215.3 1946.1,218.0 1945.8,219.8 1943.4,221.0 1942.0,220.2 1941.5,218.6 1941.5,216.0 1941.6,214.2ZM2030.8,193.0 2034.4,193.2 2034.8,196.3 2033.7,198.6 2034.1,201.9 2037.3,203.0 2040.0,205.3 2039.8,206.2 2037.4,204.4 2035.1,203.5 2032.9,203.7 2031.9,202.1 2031.1,201.2 2029.9,198.1 2030.8,196.3ZM2036.4,218.9 2036.1,216.9 2039.1,217.3 2040.1,216.2 2042.1,215.3 2043.8,214.2 2043.7,212.4 2045.7,215.3 2046.5,218.0 2045.7,220.2 2044.5,219.1 2044.0,221.8 2040.8,220.0 2040.7,218.0 2038.4,217.5ZM2040.5,206.4 2042.8,206.4 2043.9,209.3 2042.9,211.5 2042.1,211.7 2041.0,209.1ZM2035.5,207.9 2038.0,208.6 2038.4,210.2 2040.1,209.3 2040.3,211.5 2038.8,213.3 2037.0,213.1 2037.1,211.1 2035.5,210.8ZM2031.6,204.4 2034.1,204.4 2033.8,206.8 2032.7,206.2ZM2025.3,215.5 2028.1,213.5 2030.1,210.6 2030.4,209.1 2029.6,209.1 2026.9,212.4 2024.8,214.8ZM2007.4,230.9 2008.7,229.8 2010.7,230.5 2012.5,228.9 2016.3,227.1 2018.5,224.4 2020.7,223.1 2022.8,220.9 2024.5,218.6 2026.4,219.8 2027.6,221.2 2030.1,222.4 2027.9,224.4 2026.6,225.3 2027.3,227.6 2027.1,229.8 2029.8,232.0 2027.6,232.5 2026.5,234.2 2025.1,237.0 2024.0,239.2 2023.0,242.3 2019.8,243.4 2016.3,241.6 2013.6,242.1 2010.0,240.7 2009.8,238.3 2008.0,235.8 2007.8,234.2 2007.1,232.2ZM1976.4,221.8 1978.9,222.2 1981.4,222.7 1983.2,224.9 1984.1,225.8 1987.1,228.0 1988.9,229.6 1990.5,230.5 1993.4,232.5 1995.5,233.8 1995.0,236.5 1997.0,237.1 1997.5,239.4 2000.6,240.9 2000.1,244.3 2000.2,247.2 1997.3,247.2 1996.7,245.4 1994.4,244.2 1992.2,242.9 1989.4,239.8 1987.8,236.5 1985.1,233.6 1984.2,230.5 1981.5,228.2 1979.2,226.0 1978.1,224.9ZM1998.5,249.4 2000.6,247.4 2002.2,247.9 2006.0,248.7 2010.2,249.6 2011.6,248.5 2015.1,249.6 2019.1,251.6 2019.2,253.7 2015.9,252.8 2013.6,252.6 2011.4,252.5 2009.2,252.0 2007.0,251.5 2003.6,251.4 2001.2,250.8 1999.2,249.6ZM2030.5,246.5 2030.7,244.3 2030.9,242.1 2029.3,240.3 2030.5,237.1 2031.6,234.5 2032.1,232.7 2034.1,231.4 2036.6,232.0 2039.9,232.1 2042.9,230.7 2043.8,230.7 2042.2,233.1 2039.5,233.5 2035.5,233.1 2032.8,233.4 2032.3,236.0 2034.3,237.1 2035.7,236.1 2039.5,235.8 2039.7,236.5 2036.6,238.0 2035.0,238.7 2037.0,240.9 2038.5,243.2 2039.1,244.7 2037.7,246.3 2035.5,245.0 2034.2,242.7 2034.1,240.3 2032.7,240.7 2032.8,244.3 2032.8,246.7ZM2019.3,252.3 2021.9,252.5 2020.7,253.9ZM2022.6,252.8 2024.2,252.8 2023.6,254.1 2022.3,253.9ZM2024.4,253.0 2027.8,252.8 2029.3,253.2 2027.0,254.1 2024.5,254.3ZM2031.1,253.0 2033.8,253.0 2038.1,252.5 2037.8,253.4 2033.7,254.1 2031.3,253.9ZM2029.2,255.2 2032.1,255.7 2033.1,256.8 2030.7,256.1ZM2039.1,257.2 2041.5,254.8 2044.4,253.8 2047.3,252.9 2047.9,253.2 2043.7,255.4 2040.2,257.2ZM2041.2,252.8 2043.0,252.3 2042.3,253.2ZM2048.9,232.0 2050.0,229.3 2051.6,230.9 2050.5,232.7 2051.4,233.6 2049.8,234.9 2049.8,233.1ZM2050.0,240.9 2053.4,240.5 2056.3,241.4 2055.6,242.5 2052.2,241.8 2050.0,241.8ZM2045.5,241.4 2048.2,241.4 2047.7,242.7 2045.7,242.3ZM2056.4,250.5 2057.9,250.3 2057.6,252.1 2056.5,252.1ZM2063.7,246.7 2065.1,246.7 2064.5,249.4 2063.7,248.3ZM2056.8,236.0 2060.2,235.0 2063.5,236.0 2064.0,237.6 2064.6,239.8 2065.7,241.6 2068.0,239.4 2071.4,237.8 2074.7,238.7 2078.5,239.9 2082.5,241.4 2085.0,242.2 2087.0,242.9 2089.8,245.0 2089.8,245.8 2092.4,247.6 2094.2,249.0 2092.3,249.3 2093.3,251.4 2095.4,254.1 2097.5,255.4 2098.5,256.8 2100.4,257.1 2098.4,257.9 2095.1,257.0 2092.2,255.4 2089.9,252.5 2087.3,251.4 2085.5,251.5 2083.8,253.0 2083.0,254.3 2081.9,254.8 2078.5,254.5 2076.0,252.3 2073.5,252.9 2071.5,253.0 2073.4,250.3 2072.7,247.2 2070.1,245.2 2066.7,244.1 2063.4,242.9 2061.2,243.4 2060.8,241.8 2059.0,240.7 2062.1,239.8 2059.0,239.2 2056.8,237.4ZM2095.4,246.7 2098.1,246.5 2100.3,246.3 2102.6,245.2 2104.3,243.6 2104.6,245.2 2102.5,247.0 2099.1,248.1 2095.8,247.4ZM2101.2,240.0 2103.9,241.4 2106.0,243.8 2105.4,244.3 2102.8,241.4ZM2109.7,246.5 2112.1,248.3 2112.3,249.4 2110.3,248.1ZM2113.6,249.2 2115.8,250.8 2114.7,250.5ZM2115.7,251.9 2118.1,252.8 2120.1,253.2 2117.9,252.1ZM2120.4,255.0 2122.6,255.7 2121.6,256.1 2120.3,255.7ZM2122.6,253.0 2124.0,255.0 2123.3,255.4ZM2123.8,257.2 2125.9,258.1 2124.8,258.1ZM2134.3,267.7 2135.7,267.7 2135.2,269.3 2134.1,269.0ZM2135.3,269.9 2136.5,270.8 2135.8,271.3ZM2137.0,273.5 2137.6,273.9 2136.9,274.2ZM2126.6,279.1 2129.5,281.1 2132.3,283.8 2131.1,284.2 2128.2,282.2 2126.4,280.0ZM2081.6,258.1 2083.4,262.1 2083.7,266.1 2086.7,268.8 2087.4,271.9 2087.7,275.5 2088.8,277.2 2091.8,279.1 2093.3,281.4 2094.4,284.0 2096.3,284.6 2096.1,286.7 2096.8,287.4 2098.7,289.6 2100.5,289.6 2099.8,291.8 2099.1,295.4 2099.2,298.1 2096.8,302.3 2096.0,304.4 2092.6,307.6 2090.8,309.7 2088.9,312.3 2086.9,314.5 2085.3,317.9 2083.0,318.3 2080.7,318.8 2076.3,321.4 2074.9,320.1 2074.0,318.8 2070.3,320.9 2066.6,319.9 2064.4,318.8 2063.6,316.5 2063.6,314.1 2062.0,313.6 2061.1,313.7 2062.4,312.1 2062.0,310.5 2060.6,312.7 2058.9,312.9 2060.8,310.3 2062.5,306.7 2061.5,307.8 2058.8,309.8 2056.9,311.9 2055.6,311.2 2054.4,307.8 2053.8,305.9 2050.2,305.6 2048.5,304.5 2046.2,304.7 2043.8,304.9 2043.6,304.9 2040.3,305.6 2037.0,306.3 2034.6,307.1 2032.2,307.8 2031.7,309.2 2029.4,309.5 2027.2,309.8 2023.0,310.0 2020.5,311.2 2017.9,312.4 2015.1,312.3 2012.3,310.9 2012.4,309.1 2014.0,308.5 2014.9,305.6 2014.6,302.3 2013.8,298.5 2013.3,295.6 2012.3,292.7 2013.6,291.1 2012.9,288.9 2013.3,289.8 2013.7,286.7 2015.5,282.9 2015.6,284.4 2017.6,282.5 2021.5,280.3 2025.8,279.5 2029.1,278.6 2032.7,276.2 2034.5,274.3 2036.5,270.8 2037.8,272.6 2038.3,270.6 2040.3,268.8 2042.1,266.8 2046.1,264.9 2047.9,266.8 2048.7,267.7 2050.5,267.4 2052.0,265.5 2053.1,263.9 2055.2,262.0 2056.7,261.5 2058.9,261.2 2058.0,259.2 2059.3,259.7 2061.2,260.6 2064.5,261.5 2066.8,261.0 2068.5,261.5 2067.9,263.7 2066.1,265.5 2065.0,267.5 2065.9,268.8 2068.0,269.9 2070.1,271.5 2072.5,273.1 2076.0,273.3 2077.8,269.9 2078.7,266.6 2079.6,262.3 2080.3,259.9ZM2071.3,325.0 2074.8,325.9 2078.2,325.3 2078.3,326.8 2077.7,328.4 2075.9,330.6 2073.2,331.5 2071.6,331.3 2071.0,329.2 2071.0,327.5ZM2057.7,314.1 2060.0,313.6 2060.9,314.3 2058.4,314.6ZM2054.2,259.7 2056.4,259.4 2056.8,260.1 2054.5,260.6ZM2136.7,311.0 2137.7,312.3 2139.4,313.0 2139.6,315.2 2139.2,316.5 2140.9,315.6 2141.1,317.2 2141.9,318.3 2143.9,318.8 2146.2,318.3 2144.2,320.6 2143.5,321.7 2141.0,322.3 2140.2,324.1 2135.4,327.0 2134.6,326.3 2136.1,324.8 2136.5,323.3 2134.6,321.9 2135.5,321.3 2137.4,319.4 2138.4,317.7 2138.3,315.6 2137.3,313.4 2136.8,311.9ZM2131.5,324.6 2131.6,326.2 2133.9,325.7 2133.2,327.4 2131.2,328.8 2128.9,330.4 2128.4,331.8 2126.6,332.1 2123.9,333.3 2122.5,334.8 2121.0,336.5 2118.3,337.9 2115.1,338.2 2113.9,337.3 2112.0,337.3 2113.8,335.0 2116.4,333.5 2118.3,332.4 2119.7,331.9 2123.1,330.1 2125.0,329.5 2127.4,327.4 2129.4,325.5ZM2113.3,338.8 2114.5,338.8 2113.7,339.5ZM1790.4,149.5 1792.3,149.1 1794.7,149.0 1797.0,149.0 1796.0,151.1 1796.0,152.4 1794.5,152.2 1791.5,150.8 1790.2,150.0ZM1781.3,143.0 1783.4,142.4 1784.4,143.9 1784.2,146.6 1782.9,147.3 1781.6,147.1 1781.7,145.1ZM1782.1,139.7 1783.8,138.4 1784.0,140.4 1783.4,141.9 1782.5,141.5ZM1814.4,155.1 1816.3,155.3 1820.2,155.5 1820.0,156.2 1816.8,156.3 1814.4,155.6ZM1833.2,156.1 1834.6,155.4 1838.1,154.8 1836.6,156.2 1834.7,157.1 1833.4,156.8ZM1768.9,146.2 1770.4,145.3 1771.1,145.7 1770.1,146.6ZM1771.9,145.1 1772.9,145.3 1772.5,145.4ZM1766.3,147.5 1767.1,147.1 1766.9,147.6ZM1812.8,147.5 1815.2,148.2 1816.1,149.5 1815.0,148.8 1813.5,147.9ZM1823.1,153.7 1824.2,153.1 1824.0,154.0ZM1819.2,146.6 1820.5,146.8 1819.7,147.3ZM1819.3,148.4 1819.5,149.1 1819.1,148.8ZM1787.6,110.0 1790.4,109.1 1790.4,110.3 1789.6,111.2 1789.4,112.3 1787.2,112.0 1787.6,111.2ZM1784.8,110.5 1786.6,110.3 1786.8,111.4 1785.2,111.4ZM1801.5,106.9 1802.7,105.1 1803.5,105.1 1802.7,106.2 1801.8,107.4ZM1798.0,108.9 1799.3,106.4 1798.9,106.5ZM1808.8,104.2 1809.3,103.7 1811.3,103.6 1810.9,104.2 1809.6,104.9ZM1809.1,102.9 1810.7,102.7 1810.5,103.2ZM1804.0,100.0 1805.4,99.7 1805.2,100.4ZM2127.7,92.4 2129.8,92.6 2131.8,92.8 2132.2,93.5 2128.7,93.3Z"/>
<path fill="#fff" d="M1825.4,142.7 1826.7,142.4 1830.5,142.4 1832.3,141.1 1834.4,140.6 1838.3,140.5 1840.9,142.2 1843.5,142.7 1845.4,142.9 1848.1,142.8 1850.8,141.9 1852.0,141.4 1852.1,140.3 1850.5,138.4 1847.6,137.0 1845.0,135.3 1843.4,134.6 1841.1,133.7 1842.5,133.0 1843.6,131.7 1844.1,130.1 1846.1,129.2 1843.8,129.2 1841.3,129.7 1837.9,130.8 1837.4,132.3 1840.6,133.0 1838.5,133.7 1837.5,134.3 1835.7,135.2 1834.3,134.9 1834.5,133.5 1832.2,133.0 1834.4,131.7 1831.0,131.0 1829.9,130.3 1830.7,129.8 1828.4,130.7 1826.9,132.1 1826.4,133.5 1824.3,135.7 1822.9,137.9 1822.1,139.5 1823.2,140.8 1825.4,142.3ZM1820.6,144.0 1822.3,144.2 1825.5,144.0 1827.4,143.4 1825.4,142.8 1823.3,142.8 1821.8,143.5ZM1863.5,132.3 1866.4,130.6 1868.5,130.1 1870.5,129.7 1872.6,129.7 1874.6,129.7 1875.6,133.2 1871.7,133.9 1871.2,135.0 1869.7,134.8 1871.1,136.1 1871.9,137.0 1874.8,138.8 1875.6,141.7 1879.3,141.0 1878.5,143.0 1876.0,143.3 1876.6,145.1 1878.2,147.3 1879.2,151.1 1879.6,152.0 1877.4,152.2 1875.3,152.5 1872.0,151.7 1869.8,150.6 1868.3,148.6 1868.3,146.8 1869.1,144.4 1871.0,144.3 1869.0,143.5 1867.8,141.7 1866.1,140.5 1864.2,138.4 1864.0,136.4 1862.8,134.8Z"/>
<path fill="#dcdfe4" d="M1645.4,59.6 L1652,56.5 L1660.4,54.3 L1672,51 L1695.6,48 L1737,48 L1737,52 L1705,52 L1680,58 L1663,64 L1650,62.5Z M1786,48.7 L1803,46 L1820,48.7 Q1803,51 1786,48.7Z M1843,48.7 L1864,45 L1885,48.7 Q1864,51.6 1843,48.7Z M1841,53.6 L1846,53.2 L1853,53.4 L1850,54.8 L1846,55.4 L1842,54.6Z M1644,381.6 L1650,379.6 L1657,377.4 L1657.5,378.4 L1651,381 L1645,382.6Z"/>
<path fill="none" stroke="#fff" stroke-width="1.3" d="M1641,60.3 L1645,58.6 L1652,55.5 L1660.4,53.2 L1672,50 L1686,48.2"/>
</g>
<g fill="#00a2ad" fill-opacity="0.7" stroke="#333" stroke-width="1" stroke-opacity="0.9">
<circle cx="1592.3" cy="150.9" r="26.6"/>
<circle cx="1595.1" cy="152.75" r="11.5"/>
<circle cx="1515.0" cy="129.1" r="6.6"/>
<circle cx="1565.3" cy="141.6" r="6.5"/>
<circle cx="1751.95" cy="115.1" r="6.5"/>
<circle cx="1774.7" cy="117.5" r="11.2"/>
</g></svg>
<div class="t tile-l" style="left:1429.80px;top:417.90px;font-size:13px;line-height:20px;"><span id="t63" style="transform:scale(0.8041,1.0);transform-origin:0 14.50px">East US</span></div>
<div class="t tile-v" style="left:1430.20px;top:445.37px;font-size:33px;line-height:20px;"><span id="t64" style="transform:scale(1.0000,1.0);transform-origin:0 21.43px">8</span></div>
<div class="t tile-l" style="left:1525.00px;top:417.90px;font-size:13px;line-height:20px;width:64.30px;overflow:hidden;"><span id="t65" style="transform:scale(0.8630,1.0);transform-origin:0 14.50px">West Europe</span></div>
<div class="t tile-v" style="left:1524.40px;top:445.37px;font-size:33px;line-height:20px;"><span id="t66" style="transform:scale(1.0000,1.0);transform-origin:0 21.43px">2</span></div>
<div class="t tile-l" style="left:1638.80px;top:417.90px;font-size:13px;line-height:20px;"><span id="t67" style="transform:scale(0.8158,1.0);transform-origin:0 14.50px">East US 2</span></div>
<div class="t tile-v" style="left:1639.20px;top:445.37px;font-size:33px;line-height:20px;"><span id="t68" style="transform:scale(1.0000,1.0);transform-origin:0 21.43px">2</span></div>
<div class="t tile-l" style="left:1736.50px;top:417.90px;font-size:13px;line-height:20px;"><span id="t69" style="transform:scale(0.8455,1.0);transform-origin:0 14.50px">West US 2</span></div>
<div class="t tile-v" style="left:1734.50px;top:445.37px;font-size:33px;line-height:20px;"><span id="t70" style="transform:scale(1.0000,1.0);transform-origin:0 21.43px">1</span></div>
<div class="t tile-l" style="left:1838.20px;top:417.90px;font-size:13px;line-height:20px;"><span id="t71" style="transform:scale(0.8600,1.0);transform-origin:0 14.50px">Central US</span></div>
<div class="t tile-v" style="left:1836.20px;top:445.37px;font-size:33px;line-height:20px;"><span id="t72" style="transform:scale(1.0000,1.0);transform-origin:0 21.43px">1</span></div>
<div class="t tile-l" style="left:1941.20px;top:417.90px;font-size:13px;line-height:20px;width:70.30px;overflow:hidden;"><span id="t73" style="transform:scale(0.9260,1.0);transform-origin:0 14.50px">North Europe</span></div>
<div class="t tile-v" style="left:1940.20px;top:445.37px;font-size:33px;line-height:20px;"><span id="t74" style="transform:scale(1.0000,1.0);transform-origin:0 21.43px">1</span></div>
</body></html>
